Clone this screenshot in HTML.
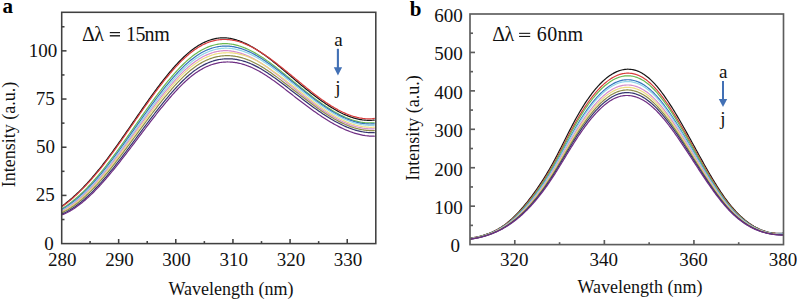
<!DOCTYPE html>
<html><head><meta charset="utf-8"><style>
html,body{margin:0;padding:0;background:#fff;}
body{width:797px;height:300px;overflow:hidden;}
svg{display:block;}
</style></head><body>
<svg width="797" height="300" viewBox="0 0 797 300">
<g fill="none" stroke-width="1.2" stroke-linejoin="round" stroke-linecap="round">
<polyline points="62.30,205.84 63.30,205.12 64.30,204.37 65.30,203.62 66.30,202.84 67.30,202.05 68.30,201.24 69.30,200.42 70.30,199.58 71.30,198.72 72.30,197.85 73.30,196.97 74.30,196.07 75.30,195.15 76.30,194.22 77.30,193.27 78.30,192.31 79.30,191.34 80.30,190.35 81.30,189.35 82.30,188.33 83.30,187.30 84.30,186.25 85.30,185.19 86.30,184.12 87.30,183.04 88.30,181.94 89.30,180.83 90.30,179.70 91.30,178.56 92.30,177.41 93.30,176.25 94.30,175.08 95.30,173.89 96.30,172.69 97.30,171.48 98.30,170.25 99.30,169.02 100.30,167.77 101.30,166.51 102.30,165.25 103.30,163.97 104.30,162.67 105.30,161.37 106.30,160.06 107.30,158.74 108.30,157.40 109.30,156.06 110.30,154.71 111.30,153.35 112.30,151.98 113.30,150.60 114.30,149.22 115.30,147.82 116.30,146.42 117.30,145.02 118.30,143.60 119.30,142.19 120.30,140.76 121.30,139.33 122.30,137.90 123.30,136.46 124.30,135.02 125.30,133.58 126.30,132.13 127.30,130.68 128.30,129.23 129.30,127.77 130.30,126.32 131.30,124.86 132.30,123.40 133.30,121.95 134.30,120.49 135.30,119.03 136.30,117.58 137.30,116.12 138.30,114.67 139.30,113.22 140.30,111.77 141.30,110.33 142.30,108.88 143.30,107.45 144.30,106.01 145.30,104.58 146.30,103.16 147.30,101.74 148.30,100.33 149.30,98.92 150.30,97.52 151.30,96.12 152.30,94.74 153.30,93.36 154.30,91.99 155.30,90.62 156.30,89.27 157.30,87.93 158.30,86.59 159.30,85.27 160.30,83.95 161.30,82.65 162.30,81.36 163.30,80.08 164.30,78.81 165.30,77.55 166.30,76.31 167.30,75.08 168.30,73.86 169.30,72.66 170.30,71.47 171.30,70.29 172.30,69.14 173.30,67.99 174.30,66.86 175.30,65.75 176.30,64.66 177.30,63.58 178.30,62.52 179.30,61.48 180.30,60.46 181.30,59.45 182.30,58.47 183.30,57.50 184.30,56.55 185.30,55.63 186.30,54.72 187.30,53.84 188.30,52.98 189.30,52.13 190.30,51.32 191.30,50.52 192.30,49.75 193.30,49.00 194.30,48.27 195.30,47.57 196.30,46.89 197.30,46.24 198.30,45.61 199.30,45.00 200.30,44.42 201.30,43.87 202.30,43.34 203.30,42.83 204.30,42.35 205.30,41.89 206.30,41.45 207.30,41.04 208.30,40.66 209.30,40.30 210.30,39.96 211.30,39.65 212.30,39.36 213.30,39.09 214.30,38.85 215.30,38.64 216.30,38.45 217.30,38.28 218.30,38.13 219.30,38.01 220.30,37.92 221.30,37.85 222.30,37.80 223.30,37.78 224.30,37.78 225.30,37.81 226.30,37.89 227.30,37.99 228.30,38.12 229.30,38.26 230.30,38.43 231.30,38.62 232.30,38.83 233.30,39.07 234.30,39.32 235.30,39.60 236.30,39.89 237.30,40.21 238.30,40.54 239.30,40.89 240.30,41.26 241.30,41.65 242.30,42.06 243.30,42.49 244.30,42.93 245.30,43.39 246.30,43.86 247.30,44.36 248.30,44.86 249.30,45.39 250.30,45.93 251.30,46.48 252.30,47.05 253.30,47.63 254.30,48.22 255.30,48.83 256.30,49.45 257.30,50.09 258.30,50.74 259.30,51.40 260.30,52.07 261.30,52.75 262.30,53.44 263.30,54.14 264.30,54.86 265.30,55.58 266.30,56.32 267.30,57.06 268.30,57.81 269.30,58.57 270.30,59.34 271.30,60.11 272.30,60.90 273.30,61.69 274.30,62.48 275.30,63.28 276.30,64.09 277.30,64.91 278.30,65.73 279.30,66.55 280.30,67.38 281.30,68.21 282.30,69.05 283.30,69.89 284.30,70.73 285.30,71.58 286.30,72.43 287.30,73.28 288.30,74.13 289.30,74.98 290.30,75.84 291.30,76.69 292.30,77.55 293.30,78.40 294.30,79.25 295.30,80.11 296.30,80.96 297.30,81.81 298.30,82.66 299.30,83.51 300.30,84.35 301.30,85.17 302.30,85.99 303.30,86.80 304.30,87.62 305.30,88.43 306.30,89.23 307.30,90.04 308.30,90.83 309.30,91.63 310.30,92.42 311.30,93.20 312.30,93.98 313.30,94.75 314.30,95.52 315.30,96.28 316.30,97.03 317.30,97.78 318.30,98.52 319.30,99.25 320.30,99.98 321.30,100.70 322.30,101.41 323.30,102.11 324.30,102.80 325.30,103.48 326.30,104.16 327.30,104.82 328.30,105.48 329.30,106.12 330.30,106.76 331.30,107.38 332.30,107.99 333.30,108.59 334.30,109.18 335.30,109.76 336.30,110.33 337.30,110.88 338.30,111.42 339.30,111.95 340.30,112.46 341.30,112.96 342.30,113.45 343.30,113.93 344.30,114.38 345.30,114.83 346.30,115.26 347.30,115.67 348.30,116.07 349.30,116.45 350.30,116.82 351.30,117.17 352.30,117.50 353.30,117.82 354.30,118.12 355.30,118.40 356.30,118.67 357.30,118.91 358.30,119.14 359.30,119.35 360.30,119.54 361.30,119.71 362.30,119.87 363.30,120.00 364.30,120.11 365.30,120.20 366.30,120.27 367.30,120.32 368.30,120.35 369.30,120.36 370.30,120.35 371.30,120.31 372.30,120.25 373.30,120.17 374.30,120.07" stroke="#151515"/>
<polyline points="62.30,206.38 63.30,205.67 64.30,204.95 65.30,204.21 66.30,203.45 67.30,202.67 68.30,201.88 69.30,201.08 70.30,200.26 71.30,199.42 72.30,198.56 73.30,197.69 74.30,196.81 75.30,195.91 76.30,194.99 77.30,194.06 78.30,193.11 79.30,192.15 80.30,191.17 81.30,190.18 82.30,189.18 83.30,188.16 84.30,187.13 85.30,186.08 86.30,185.02 87.30,183.94 88.30,182.86 89.30,181.76 90.30,180.64 91.30,179.52 92.30,178.38 93.30,177.22 94.30,176.06 95.30,174.88 96.30,173.69 97.30,172.49 98.30,171.28 99.30,170.05 100.30,168.82 101.30,167.57 102.30,166.31 103.30,165.04 104.30,163.76 105.30,162.47 106.30,161.17 107.30,159.86 108.30,158.53 109.30,157.20 110.30,155.86 111.30,154.51 112.30,153.15 113.30,151.79 114.30,150.41 115.30,149.03 116.30,147.64 117.30,146.25 118.30,144.85 119.30,143.44 120.30,142.03 121.30,140.61 122.30,139.19 123.30,137.76 124.30,136.33 125.30,134.90 126.30,133.46 127.30,132.02 128.30,130.58 129.30,129.13 130.30,127.69 131.30,126.24 132.30,124.80 133.30,123.35 134.30,121.90 135.30,120.46 136.30,119.01 137.30,117.57 138.30,116.12 139.30,114.68 140.30,113.24 141.30,111.81 142.30,110.38 143.30,108.95 144.30,107.52 145.30,106.10 146.30,104.69 147.30,103.28 148.30,101.87 149.30,100.47 150.30,99.08 151.30,97.70 152.30,96.32 153.30,94.95 154.30,93.58 155.30,92.23 156.30,90.88 157.30,89.54 158.30,88.22 159.30,86.90 160.30,85.59 161.30,84.29 162.30,83.01 163.30,81.73 164.30,80.47 165.30,79.22 166.30,77.98 167.30,76.75 168.30,75.54 169.30,74.34 170.30,73.16 171.30,71.99 172.30,70.83 173.30,69.69 174.30,68.57 175.30,67.46 176.30,66.37 177.30,65.30 178.30,64.24 179.30,63.20 180.30,62.18 181.30,61.18 182.30,60.19 183.30,59.23 184.30,58.28 185.30,57.36 186.30,56.45 187.30,55.57 188.30,54.71 189.30,53.87 190.30,53.05 191.30,52.25 192.30,51.48 193.30,50.73 194.30,50.01 195.30,49.31 196.30,48.63 197.30,47.98 198.30,47.35 199.30,46.74 200.30,46.16 201.30,45.61 202.30,45.08 203.30,44.57 204.30,44.08 205.30,43.63 206.30,43.19 207.30,42.78 208.30,42.39 209.30,42.03 210.30,41.69 211.30,41.38 212.30,41.09 213.30,40.82 214.30,40.58 215.30,40.36 216.30,40.17 217.30,40.00 218.30,39.85 219.30,39.73 220.30,39.63 221.30,39.56 222.30,39.51 223.30,39.48 224.30,39.48 225.30,39.49 226.30,39.51 227.30,39.56 228.30,39.62 229.30,39.71 230.30,39.83 231.30,39.96 232.30,40.12 233.30,40.29 234.30,40.49 235.30,40.71 236.30,40.95 237.30,41.21 238.30,41.49 239.30,41.79 240.30,42.11 241.30,42.45 242.30,42.80 243.30,43.18 244.30,43.57 245.30,43.98 246.30,44.40 247.30,44.85 248.30,45.31 249.30,45.78 250.30,46.27 251.30,46.78 252.30,47.30 253.30,47.83 254.30,48.38 255.30,48.95 256.30,49.52 257.30,50.11 258.30,50.71 259.30,51.33 260.30,51.96 261.30,52.59 262.30,53.24 263.30,53.90 264.30,54.58 265.30,55.26 266.30,55.95 267.30,56.65 268.30,57.36 269.30,58.08 270.30,58.80 271.30,59.54 272.30,60.28 273.30,61.03 274.30,61.79 275.30,62.55 276.30,63.32 277.30,64.09 278.30,64.87 279.30,65.66 280.30,66.45 281.30,67.24 282.30,68.04 283.30,68.84 284.30,69.65 285.30,70.45 286.30,71.27 287.30,72.08 288.30,72.89 289.30,73.71 290.30,74.53 291.30,75.34 292.30,76.16 293.30,76.98 294.30,77.80 295.30,78.62 296.30,79.44 297.30,80.25 298.30,81.07 299.30,81.88 300.30,82.70 301.30,83.53 302.30,84.35 303.30,85.17 304.30,85.99 305.30,86.81 306.30,87.62 307.30,88.43 308.30,89.23 309.30,90.03 310.30,90.82 311.30,91.61 312.30,92.40 313.30,93.18 314.30,93.95 315.30,94.71 316.30,95.47 317.30,96.23 318.30,96.97 319.30,97.71 320.30,98.44 321.30,99.16 322.30,99.88 323.30,100.58 324.30,101.28 325.30,101.97 326.30,102.64 327.30,103.31 328.30,103.97 329.30,104.62 330.30,105.26 331.30,105.89 332.30,106.50 333.30,107.11 334.30,107.70 335.30,108.28 336.30,108.85 337.30,109.40 338.30,109.95 339.30,110.47 340.30,110.99 341.30,111.49 342.30,111.98 343.30,112.46 344.30,112.92 345.30,113.36 346.30,113.79 347.30,114.20 348.30,114.60 349.30,114.98 350.30,115.35 351.30,115.70 352.30,116.03 353.30,116.35 354.30,116.64 355.30,116.92 356.30,117.18 357.30,117.43 358.30,117.65 359.30,117.86 360.30,118.04 361.30,118.21 362.30,118.36 363.30,118.49 364.30,118.59 365.30,118.68 366.30,118.74 367.30,118.79 368.30,118.81 369.30,118.81 370.30,118.79 371.30,118.74 372.30,118.68 373.30,118.59 374.30,118.47" stroke="#d83c3c"/>
<polyline points="62.30,208.51 63.30,207.88 64.30,207.23 65.30,206.57 66.30,205.88 67.30,205.18 68.30,204.46 69.30,203.72 70.30,202.97 71.30,202.19 72.30,201.40 73.30,200.59 74.30,199.77 75.30,198.92 76.30,198.06 77.30,197.19 78.30,196.30 79.30,195.39 80.30,194.47 81.30,193.53 82.30,192.57 83.30,191.60 84.30,190.62 85.30,189.62 86.30,188.61 87.30,187.58 88.30,186.53 89.30,185.48 90.30,184.41 91.30,183.32 92.30,182.22 93.30,181.11 94.30,179.99 95.30,178.85 96.30,177.70 97.30,176.54 98.30,175.37 99.30,174.18 100.30,172.98 101.30,171.76 102.30,170.53 103.30,169.29 104.30,168.04 105.30,166.77 106.30,165.50 107.30,164.21 108.30,162.92 109.30,161.61 110.30,160.30 111.30,158.98 112.30,157.64 113.30,156.30 114.30,154.95 115.30,153.60 116.30,152.23 117.30,150.86 118.30,149.49 119.30,148.10 120.30,146.71 121.30,145.32 122.30,143.92 123.30,142.52 124.30,141.11 125.30,139.70 126.30,138.28 127.30,136.86 128.30,135.44 129.30,134.02 130.30,132.59 131.30,131.17 132.30,129.74 133.30,128.31 134.30,126.88 135.30,125.45 136.30,124.02 137.30,122.59 138.30,121.17 139.30,119.74 140.30,118.32 141.30,116.89 142.30,115.47 143.30,114.06 144.30,112.65 145.30,111.24 146.30,109.83 147.30,108.43 148.30,107.03 149.30,105.64 150.30,104.26 151.30,102.88 152.30,101.51 153.30,100.14 154.30,98.78 155.30,97.43 156.30,96.09 157.30,94.75 158.30,93.43 159.30,92.11 160.30,90.80 161.30,89.51 162.30,88.22 163.30,86.94 164.30,85.68 165.30,84.42 166.30,83.18 167.30,81.95 168.30,80.73 169.30,79.52 170.30,78.33 171.30,77.15 172.30,75.99 173.30,74.84 174.30,73.70 175.30,72.58 176.30,71.48 177.30,70.39 178.30,69.32 179.30,68.27 180.30,67.23 181.30,66.21 182.30,65.21 183.30,64.23 184.30,63.27 185.30,62.33 186.30,61.41 187.30,60.51 188.30,59.63 189.30,58.77 190.30,57.94 191.30,57.13 192.30,56.34 193.30,55.57 194.30,54.83 195.30,54.11 196.30,53.41 197.30,52.74 198.30,52.09 199.30,51.47 200.30,50.87 201.30,50.29 202.30,49.74 203.30,49.21 204.30,48.71 205.30,48.23 206.30,47.77 207.30,47.34 208.30,46.93 209.30,46.54 210.30,46.18 211.30,45.85 212.30,45.53 213.30,45.24 214.30,44.98 215.30,44.74 216.30,44.52 217.30,44.32 218.30,44.15 219.30,44.01 220.30,43.88 221.30,43.78 222.30,43.70 223.30,43.65 224.30,43.62 225.30,43.62 226.30,43.65 227.30,43.70 228.30,43.77 229.30,43.87 230.30,43.98 231.30,44.12 232.30,44.28 233.30,44.46 234.30,44.67 235.30,44.89 236.30,45.13 237.30,45.39 238.30,45.67 239.30,45.97 240.30,46.29 241.30,46.63 242.30,46.99 243.30,47.36 244.30,47.75 245.30,48.16 246.30,48.59 247.30,49.03 248.30,49.49 249.30,49.96 250.30,50.46 251.30,50.96 252.30,51.48 253.30,52.02 254.30,52.57 255.30,53.13 256.30,53.71 257.30,54.30 258.30,54.91 259.30,55.53 260.30,56.16 261.30,56.80 262.30,57.45 263.30,58.12 264.30,58.79 265.30,59.48 266.30,60.18 267.30,60.88 268.30,61.60 269.30,62.32 270.30,63.05 271.30,63.79 272.30,64.54 273.30,65.30 274.30,66.06 275.30,66.83 276.30,67.60 277.30,68.39 278.30,69.17 279.30,69.96 280.30,70.76 281.30,71.56 282.30,72.37 283.30,73.17 284.30,73.98 285.30,74.80 286.30,75.61 287.30,76.43 288.30,77.25 289.30,78.07 290.30,78.90 291.30,79.72 292.30,80.54 293.30,81.36 294.30,82.18 295.30,83.01 296.30,83.83 297.30,84.65 298.30,85.46 299.30,86.28 300.30,87.09 301.30,87.91 302.30,88.72 303.30,89.52 304.30,90.33 305.30,91.13 306.30,91.92 307.30,92.72 308.30,93.50 309.30,94.29 310.30,95.07 311.30,95.84 312.30,96.61 313.30,97.38 314.30,98.13 315.30,98.89 316.30,99.63 317.30,100.37 318.30,101.10 319.30,101.83 320.30,102.54 321.30,103.25 322.30,103.96 323.30,104.65 324.30,105.34 325.30,106.01 326.30,106.68 327.30,107.34 328.30,107.99 329.30,108.62 330.30,109.25 331.30,109.87 332.30,110.48 333.30,111.07 334.30,111.66 335.30,112.23 336.30,112.79 337.30,113.34 338.30,113.88 339.30,114.41 340.30,114.92 341.30,115.42 342.30,115.90 343.30,116.37 344.30,116.83 345.30,117.28 346.30,117.70 347.30,118.12 348.30,118.52 349.30,118.90 350.30,119.27 351.30,119.62 352.30,119.96 353.30,120.28 354.30,120.58 355.30,120.87 356.30,121.14 357.30,121.39 358.30,121.62 359.30,121.84 360.30,122.04 361.30,122.22 362.30,122.38 363.30,122.52 364.30,122.64 365.30,122.74 366.30,122.82 367.30,122.88 368.30,122.93 369.30,122.95 370.30,122.95 371.30,122.92 372.30,122.88 373.30,122.82 374.30,122.73" stroke="#6ab850"/>
<polyline points="62.30,209.39 63.30,208.80 64.30,208.18 65.30,207.55 66.30,206.90 67.30,206.22 68.30,205.53 69.30,204.82 70.30,204.09 71.30,203.35 72.30,202.58 73.30,201.80 74.30,201.00 75.30,200.18 76.30,199.35 77.30,198.49 78.30,197.63 79.30,196.74 80.30,195.84 81.30,194.92 82.30,193.99 83.30,193.04 84.30,192.07 85.30,191.09 86.30,190.10 87.30,189.09 88.30,188.07 89.30,187.03 90.30,185.98 91.30,184.91 92.30,183.83 93.30,182.73 94.30,181.63 95.30,180.51 96.30,179.37 97.30,178.23 98.30,177.07 99.30,175.90 100.30,174.72 101.30,173.51 102.30,172.30 103.30,171.07 104.30,169.84 105.30,168.59 106.30,167.33 107.30,166.06 108.30,164.78 109.30,163.49 110.30,162.19 111.30,160.89 112.30,159.57 113.30,158.24 114.30,156.91 115.30,155.57 116.30,154.22 117.30,152.87 118.30,151.51 119.30,150.14 120.30,148.76 121.30,147.39 122.30,146.00 123.30,144.61 124.30,143.22 125.30,141.82 126.30,140.42 127.30,139.02 128.30,137.61 129.30,136.20 130.30,134.79 131.30,133.38 132.30,131.97 133.30,130.55 134.30,129.13 135.30,127.72 136.30,126.30 137.30,124.89 138.30,123.47 139.30,122.06 140.30,120.65 141.30,119.24 142.30,117.83 143.30,116.43 144.30,115.02 145.30,113.63 146.30,112.23 147.30,110.84 148.30,109.46 149.30,108.08 150.30,106.70 151.30,105.33 152.30,103.97 153.30,102.61 154.30,101.27 155.30,99.92 156.30,98.59 157.30,97.26 158.30,95.94 159.30,94.63 160.30,93.33 161.30,92.04 162.30,90.76 163.30,89.49 164.30,88.23 165.30,86.98 166.30,85.74 167.30,84.51 168.30,83.30 169.30,82.10 170.30,80.91 171.30,79.73 172.30,78.57 173.30,77.42 174.30,76.29 175.30,75.17 176.30,74.07 177.30,72.98 178.30,71.91 179.30,70.86 180.30,69.82 181.30,68.80 182.30,67.80 183.30,66.82 184.30,65.86 185.30,64.92 186.30,64.00 187.30,63.10 188.30,62.22 189.30,61.36 190.30,60.52 191.30,59.71 192.30,58.91 193.30,58.15 194.30,57.40 195.30,56.68 196.30,55.98 197.30,55.31 198.30,54.65 199.30,54.03 200.30,53.43 201.30,52.85 202.30,52.29 203.30,51.76 204.30,51.25 205.30,50.77 206.30,50.31 207.30,49.87 208.30,49.46 209.30,49.07 210.30,48.70 211.30,48.36 212.30,48.04 213.30,47.75 214.30,47.48 215.30,47.23 216.30,47.01 217.30,46.80 218.30,46.63 219.30,46.47 220.30,46.34 221.30,46.24 222.30,46.15 223.30,46.09 224.30,46.05 225.30,46.04 226.30,46.04 227.30,46.07 228.30,46.12 229.30,46.20 230.30,46.29 231.30,46.41 232.30,46.55 233.30,46.71 234.30,46.88 235.30,47.08 236.30,47.30 237.30,47.54 238.30,47.80 239.30,48.08 240.30,48.38 241.30,48.69 242.30,49.03 243.30,49.38 244.30,49.75 245.30,50.14 246.30,50.54 247.30,50.96 248.30,51.40 249.30,51.85 250.30,52.32 251.30,52.81 252.30,53.31 253.30,53.83 254.30,54.36 255.30,54.90 256.30,55.46 257.30,56.04 258.30,56.63 259.30,57.23 260.30,57.84 261.30,58.46 262.30,59.10 263.30,59.75 264.30,60.41 265.30,61.08 266.30,61.76 267.30,62.45 268.30,63.15 269.30,63.85 270.30,64.57 271.30,65.30 272.30,66.03 273.30,66.77 274.30,67.52 275.30,68.27 276.30,69.03 277.30,69.80 278.30,70.57 279.30,71.35 280.30,72.13 281.30,72.92 282.30,73.71 283.30,74.50 284.30,75.30 285.30,76.10 286.30,76.90 287.30,77.71 288.30,78.51 289.30,79.32 290.30,80.13 291.30,80.94 292.30,81.75 293.30,82.55 294.30,83.36 295.30,84.17 296.30,84.98 297.30,85.78 298.30,86.59 299.30,87.39 300.30,88.19 301.30,89.00 302.30,89.81 303.30,90.61 304.30,91.41 305.30,92.21 306.30,93.00 307.30,93.79 308.30,94.57 309.30,95.35 310.30,96.13 311.30,96.90 312.30,97.67 313.30,98.43 314.30,99.18 315.30,99.93 316.30,100.67 317.30,101.41 318.30,102.14 319.30,102.86 320.30,103.57 321.30,104.28 322.30,104.98 323.30,105.67 324.30,106.35 325.30,107.02 326.30,107.69 327.30,108.34 328.30,108.99 329.30,109.62 330.30,110.25 331.30,110.87 332.30,111.47 333.30,112.07 334.30,112.65 335.30,113.22 336.30,113.78 337.30,114.33 338.30,114.87 339.30,115.39 340.30,115.90 341.30,116.40 342.30,116.88 343.30,117.35 344.30,117.81 345.30,118.25 346.30,118.68 347.30,119.10 348.30,119.50 349.30,119.88 350.30,120.25 351.30,120.60 352.30,120.94 353.30,121.26 354.30,121.57 355.30,121.86 356.30,122.13 357.30,122.38 358.30,122.62 359.30,122.84 360.30,123.04 361.30,123.22 362.30,123.38 363.30,123.53 364.30,123.65 365.30,123.76 366.30,123.84 367.30,123.91 368.30,123.95 369.30,123.98 370.30,123.99 371.30,123.97 372.30,123.93 373.30,123.87 374.30,123.79" stroke="#3574bd"/>
<polyline points="62.30,210.28 63.30,209.72 64.30,209.14 65.30,208.53 66.30,207.91 67.30,207.27 68.30,206.61 69.30,205.92 70.30,205.22 71.30,204.50 72.30,203.76 73.30,203.01 74.30,202.23 75.30,201.44 76.30,200.63 77.30,199.80 78.30,198.95 79.30,198.09 80.30,197.21 81.30,196.32 82.30,195.40 83.30,194.47 84.30,193.53 85.30,192.57 86.30,191.59 87.30,190.60 88.30,189.60 89.30,188.58 90.30,187.54 91.30,186.49 92.30,185.43 93.30,184.36 94.30,183.27 95.30,182.16 96.30,181.05 97.30,179.92 98.30,178.78 99.30,177.62 100.30,176.45 101.30,175.26 102.30,174.07 103.30,172.85 104.30,171.63 105.30,170.40 106.30,169.15 107.30,167.90 108.30,166.63 109.30,165.36 110.30,164.07 111.30,162.78 112.30,161.48 113.30,160.17 114.30,158.85 115.30,157.52 116.30,156.19 117.30,154.84 118.30,153.50 119.30,152.14 120.30,150.78 121.30,149.42 122.30,148.05 123.30,146.67 124.30,145.29 125.30,143.91 126.30,142.52 127.30,141.13 128.30,139.73 129.30,138.34 130.30,136.94 131.30,135.54 132.30,134.13 133.30,132.73 134.30,131.33 135.30,129.92 136.30,128.52 137.30,127.11 138.30,125.71 139.30,124.31 140.30,122.90 141.30,121.50 142.30,120.11 143.30,118.71 144.30,117.32 145.30,115.93 146.30,114.55 147.30,113.16 148.30,111.79 149.30,110.42 150.30,109.05 151.30,107.69 152.30,106.33 153.30,104.98 154.30,103.64 155.30,102.30 156.30,100.97 157.30,99.65 158.30,98.34 159.30,97.03 160.30,95.74 161.30,94.45 162.30,93.17 163.30,91.91 164.30,90.65 165.30,89.40 166.30,88.17 167.30,86.94 168.30,85.73 169.30,84.53 170.30,83.34 171.30,82.17 172.30,81.00 173.30,79.86 174.30,78.72 175.30,77.60 176.30,76.50 177.30,75.41 178.30,74.34 179.30,73.28 180.30,72.25 181.30,71.23 182.30,70.22 183.30,69.24 184.30,68.28 185.30,67.33 186.30,66.41 187.30,65.50 188.30,64.62 189.30,63.76 190.30,62.92 191.30,62.10 192.30,61.30 193.30,60.53 194.30,59.78 195.30,59.05 196.30,58.35 197.30,57.67 198.30,57.02 199.30,56.39 200.30,55.78 201.30,55.19 202.30,54.63 203.30,54.10 204.30,53.58 205.30,53.10 206.30,52.63 207.30,52.19 208.30,51.77 209.30,51.37 210.30,51.00 211.30,50.65 212.30,50.33 213.30,50.03 214.30,49.75 215.30,49.49 216.30,49.26 217.30,49.05 218.30,48.87 219.30,48.71 220.30,48.57 221.30,48.45 222.30,48.36 223.30,48.29 224.30,48.24 225.30,48.22 226.30,48.21 227.30,48.23 228.30,48.27 229.30,48.33 230.30,48.41 231.30,48.52 232.30,48.64 233.30,48.79 234.30,48.96 235.30,49.14 236.30,49.35 237.30,49.58 238.30,49.82 239.30,50.09 240.30,50.37 241.30,50.68 242.30,51.00 243.30,51.34 244.30,51.69 245.30,52.07 246.30,52.46 247.30,52.87 248.30,53.30 249.30,53.74 250.30,54.20 251.30,54.67 252.30,55.16 253.30,55.67 254.30,56.19 255.30,56.72 256.30,57.27 257.30,57.83 258.30,58.41 259.30,59.00 260.30,59.60 261.30,60.22 262.30,60.85 263.30,61.49 264.30,62.14 265.30,62.80 266.30,63.47 267.30,64.15 268.30,64.84 269.30,65.54 270.30,66.25 271.30,66.97 272.30,67.70 273.30,68.43 274.30,69.17 275.30,69.92 276.30,70.67 277.30,71.43 278.30,72.20 279.30,72.97 280.30,73.74 281.30,74.52 282.30,75.30 283.30,76.09 284.30,76.88 285.30,77.67 286.30,78.47 287.30,79.27 288.30,80.07 289.30,80.87 290.30,81.67 291.30,82.47 292.30,83.27 293.30,84.07 294.30,84.87 295.30,85.67 296.30,86.47 297.30,87.27 298.30,88.07 299.30,88.86 300.30,89.66 301.30,90.46 302.30,91.26 303.30,92.06 304.30,92.85 305.30,93.65 306.30,94.43 307.30,95.22 308.30,96.00 309.30,96.77 310.30,97.54 311.30,98.31 312.30,99.07 313.30,99.83 314.30,100.58 315.30,101.32 316.30,102.06 317.30,102.79 318.30,103.51 319.30,104.23 320.30,104.94 321.30,105.64 322.30,106.34 323.30,107.02 324.30,107.70 325.30,108.37 326.30,109.03 327.30,109.68 328.30,110.33 329.30,110.96 330.30,111.58 331.30,112.20 332.30,112.80 333.30,113.39 334.30,113.97 335.30,114.54 336.30,115.10 337.30,115.64 338.30,116.18 339.30,116.70 340.30,117.21 341.30,117.71 342.30,118.19 343.30,118.66 344.30,119.12 345.30,119.56 346.30,119.99 347.30,120.40 348.30,120.80 349.30,121.19 350.30,121.56 351.30,121.91 352.30,122.25 353.30,122.57 354.30,122.88 355.30,123.17 356.30,123.45 357.30,123.70 358.30,123.94 359.30,124.16 360.30,124.37 361.30,124.55 362.30,124.72 363.30,124.87 364.30,125.00 365.30,125.11 366.30,125.20 367.30,125.27 368.30,125.33 369.30,125.36 370.30,125.37 371.30,125.36 372.30,125.33 373.30,125.28 374.30,125.21" stroke="#92d6ea"/>
<polyline points="62.30,210.99 63.30,210.46 64.30,209.90 65.30,209.32 66.30,208.72 67.30,208.10 68.30,207.46 69.30,206.80 70.30,206.13 71.30,205.43 72.30,204.71 73.30,203.97 74.30,203.22 75.30,202.44 76.30,201.65 77.30,200.84 78.30,200.02 79.30,199.17 80.30,198.31 81.30,197.43 82.30,196.53 83.30,195.62 84.30,194.69 85.30,193.75 86.30,192.79 87.30,191.81 88.30,190.82 89.30,189.82 90.30,188.80 91.30,187.76 92.30,186.72 93.30,185.65 94.30,184.58 95.30,183.49 96.30,182.38 97.30,181.27 98.30,180.14 99.30,179.00 100.30,177.84 101.30,176.67 102.30,175.49 103.30,174.29 104.30,173.08 105.30,171.87 106.30,170.64 107.30,169.40 108.30,168.15 109.30,166.89 110.30,165.62 111.30,164.34 112.30,163.06 113.30,161.76 114.30,160.46 115.30,159.15 116.30,157.83 117.30,156.50 118.30,155.17 119.30,153.83 120.30,152.49 121.30,151.14 122.30,149.79 123.30,148.43 124.30,147.06 125.30,145.69 126.30,144.32 127.30,142.95 128.30,141.57 129.30,140.19 130.30,138.80 131.30,137.42 132.30,136.03 133.30,134.64 134.30,133.25 135.30,131.86 136.30,130.47 137.30,129.08 138.30,127.70 139.30,126.31 140.30,124.92 141.30,123.54 142.30,122.15 143.30,120.77 144.30,119.39 145.30,118.02 146.30,116.65 147.30,115.28 148.30,113.91 149.30,112.56 150.30,111.20 151.30,109.85 152.30,108.51 153.30,107.17 154.30,105.84 155.30,104.51 156.30,103.20 157.30,101.89 158.30,100.58 159.30,99.29 160.30,98.00 161.30,96.73 162.30,95.46 163.30,94.20 164.30,92.95 165.30,91.72 166.30,90.49 167.30,89.27 168.30,88.07 169.30,86.87 170.30,85.69 171.30,84.52 172.30,83.37 173.30,82.23 174.30,81.10 175.30,79.98 176.30,78.89 177.30,77.80 178.30,76.74 179.30,75.68 180.30,74.65 181.30,73.63 182.30,72.64 183.30,71.66 184.30,70.69 185.30,69.75 186.30,68.83 187.30,67.93 188.30,67.05 189.30,66.19 190.30,65.35 191.30,64.54 192.30,63.74 193.30,62.97 194.30,62.23 195.30,61.50 196.30,60.80 197.30,60.13 198.30,59.47 199.30,58.84 200.30,58.24 201.30,57.65 202.30,57.09 203.30,56.56 204.30,56.05 205.30,55.56 206.30,55.09 207.30,54.65 208.30,54.23 209.30,53.83 210.30,53.46 211.30,53.11 212.30,52.79 213.30,52.48 214.30,52.20 215.30,51.95 216.30,51.71 217.30,51.50 218.30,51.32 219.30,51.15 220.30,51.01 221.30,50.89 222.30,50.79 223.30,50.72 224.30,50.67 225.30,50.65 226.30,50.67 227.30,50.71 228.30,50.77 229.30,50.85 230.30,50.96 231.30,51.08 232.30,51.23 233.30,51.40 234.30,51.58 235.30,51.79 236.30,52.01 237.30,52.26 238.30,52.52 239.30,52.80 240.30,53.11 241.30,53.43 242.30,53.76 243.30,54.12 244.30,54.49 245.30,54.88 246.30,55.29 247.30,55.71 248.30,56.15 249.30,56.61 250.30,57.09 251.30,57.57 252.30,58.08 253.30,58.60 254.30,59.14 255.30,59.69 256.30,60.25 257.30,60.83 258.30,61.42 259.30,62.03 260.30,62.65 261.30,63.28 262.30,63.92 263.30,64.58 264.30,65.25 265.30,65.93 266.30,66.61 267.30,67.31 268.30,68.02 269.30,68.74 270.30,69.46 271.30,70.20 272.30,70.94 273.30,71.69 274.30,72.45 275.30,73.21 276.30,73.98 277.30,74.76 278.30,75.54 279.30,76.33 280.30,77.12 281.30,77.92 282.30,78.72 283.30,79.52 284.30,80.33 285.30,81.14 286.30,81.95 287.30,82.76 288.30,83.57 289.30,84.39 290.30,85.20 291.30,86.02 292.30,86.84 293.30,87.65 294.30,88.47 295.30,89.28 296.30,90.09 297.30,90.90 298.30,91.71 299.30,92.52 300.30,93.32 301.30,94.11 302.30,94.90 303.30,95.68 304.30,96.47 305.30,97.24 306.30,98.02 307.30,98.79 308.30,99.56 309.30,100.32 310.30,101.08 311.30,101.83 312.30,102.58 313.30,103.33 314.30,104.06 315.30,104.80 316.30,105.52 317.30,106.24 318.30,106.95 319.30,107.66 320.30,108.36 321.30,109.05 322.30,109.74 323.30,110.41 324.30,111.08 325.30,111.74 326.30,112.39 327.30,113.04 328.30,113.67 329.30,114.30 330.30,114.91 331.30,115.52 332.30,116.11 333.30,116.70 334.30,117.27 335.30,117.83 336.30,118.39 337.30,118.93 338.30,119.46 339.30,119.98 340.30,120.48 341.30,120.98 342.30,121.46 343.30,121.93 344.30,122.38 345.30,122.82 346.30,123.25 347.30,123.67 348.30,124.07 349.30,124.45 350.30,124.83 351.30,125.18 352.30,125.53 353.30,125.85 354.30,126.16 355.30,126.46 356.30,126.74 357.30,127.00 358.30,127.25 359.30,127.48 360.30,127.69 361.30,127.89 362.30,128.07 363.30,128.23 364.30,128.37 365.30,128.50 366.30,128.60 367.30,128.69 368.30,128.76 369.30,128.81 370.30,128.84 371.30,128.85 372.30,128.84 373.30,128.81 374.30,128.75" stroke="#d48ccc"/>
<polyline points="62.30,211.70 63.30,211.19 64.30,210.66 65.30,210.11 66.30,209.53 67.30,208.94 68.30,208.32 69.30,207.69 70.30,207.03 71.30,206.35 72.30,205.66 73.30,204.94 74.30,204.20 75.30,203.45 76.30,202.68 77.30,201.89 78.30,201.08 79.30,200.25 80.30,199.41 81.30,198.54 82.30,197.67 83.30,196.77 84.30,195.86 85.30,194.93 86.30,193.99 87.30,193.03 88.30,192.05 89.30,191.06 90.30,190.05 91.30,189.03 92.30,188.00 93.30,186.95 94.30,185.89 95.30,184.81 96.30,183.72 97.30,182.62 98.30,181.50 99.30,180.37 100.30,179.23 101.30,178.07 102.30,176.90 103.30,175.72 104.30,174.53 105.30,173.33 106.30,172.11 107.30,170.89 108.30,169.65 109.30,168.41 110.30,167.15 111.30,165.89 112.30,164.62 113.30,163.33 114.30,162.05 115.30,160.75 116.30,159.45 117.30,158.13 118.30,156.82 119.30,155.49 120.30,154.16 121.30,152.83 122.30,151.49 123.30,150.14 124.30,148.79 125.30,147.44 126.30,146.08 127.30,144.72 128.30,143.35 129.30,141.99 130.30,140.62 131.30,139.24 132.30,137.87 133.30,136.49 134.30,135.12 135.30,133.74 136.30,132.37 137.30,130.99 138.30,129.61 139.30,128.24 140.30,126.86 141.30,125.49 142.30,124.12 143.30,122.75 144.30,121.38 145.30,120.02 146.30,118.66 147.30,117.30 148.30,115.95 149.30,114.60 150.30,113.25 151.30,111.92 152.30,110.58 153.30,109.25 154.30,107.93 155.30,106.62 156.30,105.31 157.30,104.01 158.30,102.71 159.30,101.43 160.30,100.15 161.30,98.88 162.30,97.62 163.30,96.37 164.30,95.13 165.30,93.90 166.30,92.67 167.30,91.46 168.30,90.26 169.30,89.08 170.30,87.90 171.30,86.74 172.30,85.58 173.30,84.45 174.30,83.32 175.30,82.21 176.30,81.12 177.30,80.03 178.30,78.97 179.30,77.92 180.30,76.89 181.30,75.88 182.30,74.88 183.30,73.90 184.30,72.94 185.30,72.00 186.30,71.08 187.30,70.18 188.30,69.30 189.30,68.44 190.30,67.60 191.30,66.79 192.30,66.00 193.30,65.23 194.30,64.48 195.30,63.76 196.30,63.06 197.30,62.38 198.30,61.73 199.30,61.10 200.30,60.49 201.30,59.91 202.30,59.35 203.30,58.81 204.30,58.29 205.30,57.80 206.30,57.34 207.30,56.89 208.30,56.47 209.30,56.07 210.30,55.70 211.30,55.35 212.30,55.02 213.30,54.71 214.30,54.43 215.30,54.17 216.30,53.93 217.30,53.72 218.30,53.53 219.30,53.36 220.30,53.22 221.30,53.09 222.30,52.99 223.30,52.91 224.30,52.86 225.30,52.81 226.30,52.76 227.30,52.74 228.30,52.74 229.30,52.75 230.30,52.79 231.30,52.86 232.30,52.94 233.30,53.04 234.30,53.16 235.30,53.31 236.30,53.47 237.30,53.65 238.30,53.85 239.30,54.07 240.30,54.32 241.30,54.57 242.30,54.85 243.30,55.15 244.30,55.46 245.30,55.80 246.30,56.15 247.30,56.51 248.30,56.90 249.30,57.30 250.30,57.72 251.30,58.15 252.30,58.60 253.30,59.07 254.30,59.55 255.30,60.05 256.30,60.56 257.30,61.09 258.30,61.63 259.30,62.19 260.30,62.76 261.30,63.34 262.30,63.93 263.30,64.54 264.30,65.16 265.30,65.79 266.30,66.43 267.30,67.08 268.30,67.74 269.30,68.41 270.30,69.09 271.30,69.78 272.30,70.47 273.30,71.18 274.30,71.89 275.30,72.61 276.30,73.33 277.30,74.06 278.30,74.80 279.30,75.54 280.30,76.29 281.30,77.04 282.30,77.80 283.30,78.56 284.30,79.32 285.30,80.09 286.30,80.85 287.30,81.62 288.30,82.40 289.30,83.17 290.30,83.94 291.30,84.72 292.30,85.49 293.30,86.27 294.30,87.04 295.30,87.81 296.30,88.59 297.30,89.36 298.30,90.13 299.30,90.90 300.30,91.67 301.30,92.47 302.30,93.26 303.30,94.05 304.30,94.84 305.30,95.63 306.30,96.41 307.30,97.18 308.30,97.96 309.30,98.72 310.30,99.49 311.30,100.25 312.30,101.00 313.30,101.75 314.30,102.49 315.30,103.23 316.30,103.96 317.30,104.69 318.30,105.41 319.30,106.12 320.30,106.82 321.30,107.52 322.30,108.21 323.30,108.89 324.30,109.56 325.30,110.23 326.30,110.88 327.30,111.53 328.30,112.17 329.30,112.79 330.30,113.41 331.30,114.02 332.30,114.62 333.30,115.21 334.30,115.79 335.30,116.35 336.30,116.91 337.30,117.45 338.30,117.98 339.30,118.50 340.30,119.01 341.30,119.50 342.30,119.99 343.30,120.46 344.30,120.91 345.30,121.35 346.30,121.78 347.30,122.20 348.30,122.60 349.30,122.98 350.30,123.36 351.30,123.71 352.30,124.05 353.30,124.38 354.30,124.69 355.30,124.98 356.30,125.26 357.30,125.52 358.30,125.76 359.30,125.99 360.30,126.20 361.30,126.39 362.30,126.56 363.30,126.72 364.30,126.85 365.30,126.97 366.30,127.07 367.30,127.15 368.30,127.21 369.30,127.26 370.30,127.28 371.30,127.28 372.30,127.26 373.30,127.22 374.30,127.16" stroke="#eedc80"/>
<polyline points="62.30,212.59 63.30,212.11 64.30,211.61 65.30,211.09 66.30,210.55 67.30,209.98 68.30,209.40 69.30,208.79 70.30,208.16 71.30,207.51 72.30,206.84 73.30,206.15 74.30,205.44 75.30,204.71 76.30,203.96 77.30,203.19 78.30,202.41 79.30,201.60 80.30,200.78 81.30,199.94 82.30,199.08 83.30,198.21 84.30,197.31 85.30,196.40 86.30,195.48 87.30,194.54 88.30,193.58 89.30,192.61 90.30,191.62 91.30,190.62 92.30,189.60 93.30,188.57 94.30,187.52 95.30,186.47 96.30,185.39 97.30,184.31 98.30,183.21 99.30,182.09 100.30,180.97 101.30,179.83 102.30,178.68 103.30,177.52 104.30,176.34 105.30,175.16 106.30,173.96 107.30,172.76 108.30,171.54 109.30,170.31 110.30,169.08 111.30,167.83 112.30,166.58 113.30,165.32 114.30,164.05 115.30,162.77 116.30,161.49 117.30,160.19 118.30,158.90 119.30,157.59 120.30,156.28 121.30,154.96 122.30,153.64 123.30,152.32 124.30,150.98 125.30,149.65 126.30,148.31 127.30,146.97 128.30,145.62 129.30,144.27 130.30,142.92 131.30,141.57 132.30,140.21 133.30,138.85 134.30,137.50 135.30,136.14 136.30,134.78 137.30,133.42 138.30,132.06 139.30,130.70 140.30,129.34 141.30,127.99 142.30,126.63 143.30,125.28 144.30,123.93 145.30,122.58 146.30,121.24 147.30,119.90 148.30,118.56 149.30,117.22 150.30,115.90 151.30,114.57 152.30,113.25 153.30,111.94 154.30,110.63 155.30,109.33 156.30,108.03 157.30,106.74 158.30,105.46 159.30,104.19 160.30,102.92 161.30,101.66 162.30,100.41 163.30,99.17 164.30,97.94 165.30,96.72 166.30,95.51 167.30,94.31 168.30,93.12 169.30,91.94 170.30,90.77 171.30,89.61 172.30,88.47 173.30,87.33 174.30,86.22 175.30,85.11 176.30,84.02 177.30,82.94 178.30,81.88 179.30,80.84 180.30,79.81 181.30,78.80 182.30,77.81 183.30,76.83 184.30,75.88 185.30,74.94 186.30,74.02 187.30,73.13 188.30,72.25 189.30,71.39 190.30,70.56 191.30,69.75 192.30,68.96 193.30,68.19 194.30,67.44 195.30,66.72 196.30,66.02 197.30,65.35 198.30,64.69 199.30,64.06 200.30,63.46 201.30,62.88 202.30,62.32 203.30,61.78 204.30,61.26 205.30,60.77 206.30,60.31 207.30,59.86 208.30,59.44 209.30,59.04 210.30,58.66 211.30,58.31 212.30,57.98 213.30,57.67 214.30,57.39 215.30,57.12 216.30,56.88 217.30,56.67 218.30,56.47 219.30,56.30 220.30,56.15 221.30,56.02 222.30,55.92 223.30,55.83 224.30,55.77 225.30,55.72 226.30,55.69 227.30,55.68 228.30,55.68 229.30,55.71 230.30,55.76 231.30,55.83 232.30,55.92 233.30,56.04 234.30,56.17 235.30,56.32 236.30,56.49 237.30,56.68 238.30,56.89 239.30,57.12 240.30,57.36 241.30,57.63 242.30,57.91 243.30,58.21 244.30,58.53 245.30,58.87 246.30,59.23 247.30,59.60 248.30,59.99 249.30,60.40 250.30,60.82 251.30,61.26 252.30,61.72 253.30,62.19 254.30,62.68 255.30,63.18 256.30,63.70 257.30,64.24 258.30,64.78 259.30,65.35 260.30,65.92 261.30,66.51 262.30,67.12 263.30,67.73 264.30,68.36 265.30,68.99 266.30,69.64 267.30,70.30 268.30,70.97 269.30,71.65 270.30,72.34 271.30,73.04 272.30,73.74 273.30,74.45 274.30,75.17 275.30,75.90 276.30,76.64 277.30,77.38 278.30,78.12 279.30,78.87 280.30,79.63 281.30,80.39 282.30,81.16 283.30,81.92 284.30,82.70 285.30,83.47 286.30,84.25 287.30,85.02 288.30,85.80 289.30,86.58 290.30,87.37 291.30,88.15 292.30,88.93 293.30,89.71 294.30,90.49 295.30,91.27 296.30,92.05 297.30,92.82 298.30,93.60 299.30,94.37 300.30,95.15 301.30,95.94 302.30,96.72 303.30,97.50 304.30,98.27 305.30,99.04 306.30,99.81 307.30,100.58 308.30,101.34 309.30,102.10 310.30,102.85 311.30,103.60 312.30,104.34 313.30,105.08 314.30,105.81 315.30,106.53 316.30,107.25 317.30,107.97 318.30,108.68 319.30,109.38 320.30,110.07 321.30,110.76 322.30,111.44 323.30,112.11 324.30,112.77 325.30,113.43 326.30,114.08 327.30,114.71 328.30,115.34 329.30,115.96 330.30,116.57 331.30,117.18 332.30,117.77 333.30,118.35 334.30,118.92 335.30,119.48 336.30,120.03 337.30,120.57 338.30,121.10 339.30,121.61 340.30,122.12 341.30,122.61 342.30,123.09 343.30,123.56 344.30,124.01 345.30,124.46 346.30,124.88 347.30,125.30 348.30,125.70 349.30,126.09 350.30,126.46 351.30,126.82 352.30,127.16 353.30,127.49 354.30,127.81 355.30,128.10 356.30,128.39 357.30,128.65 358.30,128.91 359.30,129.14 360.30,129.36 361.30,129.56 362.30,129.74 363.30,129.91 364.30,130.06 365.30,130.19 366.30,130.30 367.30,130.40 368.30,130.47 369.30,130.53 370.30,130.57 371.30,130.59 372.30,130.59 373.30,130.57 374.30,130.53" stroke="#8c8c48"/>
<polyline points="62.30,213.83 63.30,213.40 64.30,212.95 65.30,212.47 66.30,211.97 67.30,211.44 68.30,210.90 69.30,210.33 70.30,209.74 71.30,209.13 72.30,208.49 73.30,207.84 74.30,207.16 75.30,206.47 76.30,205.75 77.30,205.02 78.30,204.27 79.30,203.49 80.30,202.70 81.30,201.89 82.30,201.06 83.30,200.21 84.30,199.35 85.30,198.47 86.30,197.57 87.30,196.66 88.30,195.73 89.30,194.78 90.30,193.82 91.30,192.84 92.30,191.85 93.30,190.84 94.30,189.82 95.30,188.78 96.30,187.73 97.30,186.67 98.30,185.59 99.30,184.50 100.30,183.40 101.30,182.28 102.30,181.15 103.30,180.01 104.30,178.86 105.30,177.69 106.30,176.52 107.30,175.33 108.30,174.14 109.30,172.93 110.30,171.71 111.30,170.49 112.30,169.26 113.30,168.02 114.30,166.77 115.30,165.51 116.30,164.24 117.30,162.97 118.30,161.69 119.30,160.41 120.30,159.12 121.30,157.82 122.30,156.52 123.30,155.21 124.30,153.90 125.30,152.58 126.30,151.26 127.30,149.94 128.30,148.61 129.30,147.28 130.30,145.95 131.30,144.61 132.30,143.27 133.30,141.93 134.30,140.59 135.30,139.25 136.30,137.91 137.30,136.56 138.30,135.22 139.30,133.88 140.30,132.53 141.30,131.19 142.30,129.85 143.30,128.51 144.30,127.18 145.30,125.84 146.30,124.51 147.30,123.18 148.30,121.86 149.30,120.54 150.30,119.22 151.30,117.91 152.30,116.60 153.30,115.29 154.30,114.00 155.30,112.70 156.30,111.42 157.30,110.14 158.30,108.86 159.30,107.60 160.30,106.34 161.30,105.09 162.30,103.84 163.30,102.61 164.30,101.38 165.30,100.17 166.30,98.96 167.30,97.76 168.30,96.57 169.30,95.40 170.30,94.23 171.30,93.08 172.30,91.93 173.30,90.80 174.30,89.68 175.30,88.58 176.30,87.49 177.30,86.41 178.30,85.35 179.30,84.30 180.30,83.27 181.30,82.26 182.30,81.26 183.30,80.29 184.30,79.33 185.30,78.39 186.30,77.47 187.30,76.56 188.30,75.68 189.30,74.82 190.30,73.99 191.30,73.17 192.30,72.37 193.30,71.60 194.30,70.85 195.30,70.13 196.30,69.42 197.30,68.74 198.30,68.08 199.30,67.45 200.30,66.84 201.30,66.25 202.30,65.68 203.30,65.14 204.30,64.62 205.30,64.12 206.30,63.64 207.30,63.19 208.30,62.76 209.30,62.35 210.30,61.97 211.30,61.61 212.30,61.27 213.30,60.95 214.30,60.66 215.30,60.38 216.30,60.14 217.30,59.91 218.30,59.70 219.30,59.52 220.30,59.36 221.30,59.22 222.30,59.10 223.30,59.01 224.30,58.93 225.30,58.87 226.30,58.82 227.30,58.80 228.30,58.79 229.30,58.80 230.30,58.84 231.30,58.89 232.30,58.96 233.30,59.06 234.30,59.17 235.30,59.31 236.30,59.46 237.30,59.63 238.30,59.83 239.30,60.04 240.30,60.27 241.30,60.51 242.30,60.78 243.30,61.07 244.30,61.37 245.30,61.69 246.30,62.03 247.30,62.39 248.30,62.76 249.30,63.15 250.30,63.56 251.30,63.98 252.30,64.42 253.30,64.88 254.30,65.35 255.30,65.84 256.30,66.35 257.30,66.87 258.30,67.40 259.30,67.95 260.30,68.52 261.30,69.10 262.30,69.69 263.30,70.29 264.30,70.90 265.30,71.53 266.30,72.17 267.30,72.82 268.30,73.47 269.30,74.14 270.30,74.82 271.30,75.51 272.30,76.20 273.30,76.91 274.30,77.62 275.30,78.34 276.30,79.06 277.30,79.79 278.30,80.53 279.30,81.27 280.30,82.02 281.30,82.77 282.30,83.52 283.30,84.28 284.30,85.05 285.30,85.81 286.30,86.58 287.30,87.35 288.30,88.12 289.30,88.89 290.30,89.66 291.30,90.43 292.30,91.20 293.30,91.98 294.30,92.75 295.30,93.52 296.30,94.28 297.30,95.05 298.30,95.82 299.30,96.58 300.30,97.35 301.30,98.13 302.30,98.90 303.30,99.67 304.30,100.44 305.30,101.20 306.30,101.97 307.30,102.72 308.30,103.48 309.30,104.23 310.30,104.97 311.30,105.71 312.30,106.45 313.30,107.18 314.30,107.90 315.30,108.62 316.30,109.33 317.30,110.04 318.30,110.74 319.30,111.44 320.30,112.12 321.30,112.80 322.30,113.48 323.30,114.14 324.30,114.80 325.30,115.45 326.30,116.09 327.30,116.73 328.30,117.35 329.30,117.97 330.30,118.57 331.30,119.17 332.30,119.76 333.30,120.33 334.30,120.90 335.30,121.46 336.30,122.01 337.30,122.54 338.30,123.07 339.30,123.58 340.30,124.08 341.30,124.57 342.30,125.05 343.30,125.52 344.30,125.97 345.30,126.41 346.30,126.84 347.30,127.26 348.30,127.66 349.30,128.05 350.30,128.42 351.30,128.78 352.30,129.13 353.30,129.46 354.30,129.78 355.30,130.08 356.30,130.36 357.30,130.64 358.30,130.89 359.30,131.13 360.30,131.35 361.30,131.56 362.30,131.75 363.30,131.93 364.30,132.08 365.30,132.22 366.30,132.34 367.30,132.45 368.30,132.53 369.30,132.60 370.30,132.65 371.30,132.68 372.30,132.69 373.30,132.68 374.30,132.65" stroke="#34346e"/>
<polyline points="62.30,214.72 63.30,214.32 64.30,213.90 65.30,213.45 66.30,212.98 67.30,212.49 68.30,211.97 69.30,211.43 70.30,210.87 71.30,210.28 72.30,209.68 73.30,209.05 74.30,208.40 75.30,207.73 76.30,207.04 77.30,206.32 78.30,205.59 79.30,204.84 80.30,204.07 81.30,203.28 82.30,202.48 83.30,201.65 84.30,200.81 85.30,199.95 86.30,199.07 87.30,198.17 88.30,197.26 89.30,196.33 90.30,195.39 91.30,194.43 92.30,193.45 93.30,192.46 94.30,191.46 95.30,190.44 96.30,189.40 97.30,188.36 98.30,187.30 99.30,186.22 100.30,185.14 101.30,184.04 102.30,182.93 103.30,181.81 104.30,180.68 105.30,179.53 106.30,178.38 107.30,177.21 108.30,176.04 109.30,174.85 110.30,173.66 111.30,172.45 112.30,171.24 113.30,170.02 114.30,168.79 115.30,167.56 116.30,166.31 117.30,165.06 118.30,163.80 119.30,162.54 120.30,161.27 121.30,159.99 122.30,158.71 123.30,157.43 124.30,156.13 125.30,154.84 126.30,153.54 127.30,152.23 128.30,150.93 129.30,149.62 130.30,148.30 131.30,146.99 132.30,145.67 133.30,144.35 134.30,143.03 135.30,141.71 136.30,140.39 137.30,139.06 138.30,137.74 139.30,136.41 140.30,135.09 141.30,133.77 142.30,132.45 143.30,131.13 144.30,129.81 145.30,128.49 146.30,127.18 147.30,125.87 148.30,124.56 149.30,123.26 150.30,121.96 151.30,120.66 152.30,119.37 153.30,118.08 154.30,116.80 155.30,115.52 156.30,114.25 157.30,112.99 158.30,111.73 159.30,110.48 160.30,109.23 161.30,107.99 162.30,106.76 163.30,105.54 164.30,104.33 165.30,103.12 166.30,101.93 167.30,100.74 168.30,99.57 169.30,98.40 170.30,97.24 171.30,96.10 172.30,94.96 173.30,93.84 174.30,92.73 175.30,91.63 176.30,90.55 177.30,89.48 178.30,88.43 179.30,87.39 180.30,86.36 181.30,85.36 182.30,84.37 183.30,83.39 184.30,82.44 185.30,81.50 186.30,80.59 187.30,79.69 188.30,78.82 189.30,77.96 190.30,77.13 191.30,76.31 192.30,75.52 193.30,74.75 194.30,74.01 195.30,73.29 196.30,72.58 197.30,71.91 198.30,71.25 199.30,70.62 200.30,70.01 201.30,69.42 202.30,68.86 203.30,68.32 204.30,67.80 205.30,67.30 206.30,66.83 207.30,66.38 208.30,65.95 209.30,65.54 210.30,65.16 211.30,64.79 212.30,64.45 213.30,64.14 214.30,63.84 215.30,63.57 216.30,63.32 217.30,63.09 218.30,62.88 219.30,62.69 220.30,62.53 221.30,62.39 222.30,62.27 223.30,62.17 224.30,62.09 225.30,62.03 226.30,61.99 227.30,61.97 228.30,61.98 229.30,62.00 230.30,62.04 231.30,62.11 232.30,62.19 233.30,62.29 234.30,62.41 235.30,62.55 236.30,62.71 237.30,62.89 238.30,63.09 239.30,63.31 240.30,63.54 241.30,63.79 242.30,64.07 243.30,64.36 244.30,64.66 245.30,64.99 246.30,65.33 247.30,65.69 248.30,66.07 249.30,66.46 250.30,66.88 251.30,67.31 252.30,67.75 253.30,68.21 254.30,68.69 255.30,69.19 256.30,69.70 257.30,70.22 258.30,70.76 259.30,71.32 260.30,71.89 261.30,72.48 262.30,73.07 263.30,73.68 264.30,74.30 265.30,74.94 266.30,75.58 267.30,76.24 268.30,76.91 269.30,77.58 270.30,78.27 271.30,78.97 272.30,79.67 273.30,80.38 274.30,81.10 275.30,81.83 276.30,82.56 277.30,83.30 278.30,84.05 279.30,84.80 280.30,85.55 281.30,86.31 282.30,87.08 283.30,87.84 284.30,88.61 285.30,89.39 286.30,90.16 287.30,90.94 288.30,91.72 289.30,92.49 290.30,93.27 291.30,94.05 292.30,94.83 293.30,95.61 294.30,96.38 295.30,97.16 296.30,97.93 297.30,98.70 298.30,99.48 299.30,100.24 300.30,101.01 301.30,101.77 302.30,102.54 303.30,103.30 304.30,104.05 305.30,104.80 306.30,105.55 307.30,106.30 308.30,107.04 309.30,107.78 310.30,108.51 311.30,109.24 312.30,109.96 313.30,110.68 314.30,111.39 315.30,112.10 316.30,112.80 317.30,113.50 318.30,114.18 319.30,114.87 320.30,115.54 321.30,116.21 322.30,116.88 323.30,117.53 324.30,118.18 325.30,118.82 326.30,119.45 327.30,120.08 328.30,120.69 329.30,121.30 330.30,121.90 331.30,122.49 332.30,123.07 333.30,123.64 334.30,124.20 335.30,124.75 336.30,125.30 337.30,125.83 338.30,126.35 339.30,126.86 340.30,127.36 341.30,127.84 342.30,128.32 343.30,128.78 344.30,129.24 345.30,129.68 346.30,130.10 347.30,130.52 348.30,130.92 349.30,131.31 350.30,131.69 351.30,132.05 352.30,132.40 353.30,132.74 354.30,133.06 355.30,133.37 356.30,133.66 357.30,133.94 358.30,134.20 359.30,134.45 360.30,134.68 361.30,134.90 362.30,135.10 363.30,135.29 364.30,135.45 365.30,135.61 366.30,135.74 367.30,135.86 368.30,135.96 369.30,136.05 370.30,136.11 371.30,136.16 372.30,136.19 373.30,136.21 374.30,136.20" stroke="#6e2e84"/>
<polyline points="470.80,238.21 471.80,238.03 472.80,237.84 473.80,237.65 474.80,237.45 475.80,237.23 476.80,237.01 477.80,236.78 478.80,236.54 479.80,236.29 480.80,236.03 481.80,235.75 482.80,235.47 483.80,235.17 484.80,234.85 485.80,234.52 486.80,234.17 487.80,233.81 488.80,233.44 489.80,233.04 490.80,232.63 491.80,232.20 492.80,231.75 493.80,231.28 494.80,230.79 495.80,230.28 496.80,229.75 497.80,229.19 498.80,228.62 499.80,228.02 500.80,227.39 501.80,226.75 502.80,226.07 503.80,225.38 504.80,224.65 505.80,223.90 506.80,223.12 507.80,222.32 508.80,221.49 509.80,220.63 510.80,219.75 511.80,218.84 512.80,217.91 513.80,216.96 514.80,215.98 515.80,214.98 516.80,213.95 517.80,212.90 518.80,211.83 519.80,210.74 520.80,209.63 521.80,208.49 522.80,207.34 523.80,206.16 524.80,204.96 525.80,203.74 526.80,202.51 527.80,201.25 528.80,199.98 529.80,198.68 530.80,197.37 531.80,196.04 532.80,194.69 533.80,193.32 534.80,191.93 535.80,190.53 536.80,189.10 537.80,187.64 538.80,186.17 539.80,184.68 540.80,183.16 541.80,181.63 542.80,180.07 543.80,178.48 544.80,176.88 545.80,175.25 546.80,173.60 547.80,171.92 548.80,170.22 549.80,168.49 550.80,166.74 551.80,164.97 552.80,163.17 553.80,161.34 554.80,159.48 555.80,157.61 556.80,155.70 557.80,153.78 558.80,151.84 559.80,149.89 560.80,147.93 561.80,145.95 562.80,143.97 563.80,141.99 564.80,140.00 565.80,138.01 566.80,136.03 567.80,134.06 568.80,132.09 569.80,130.13 570.80,128.19 571.80,126.27 572.80,124.36 573.80,122.48 574.80,120.62 575.80,118.79 576.80,116.99 577.80,115.22 578.80,113.48 579.80,111.77 580.80,110.09 581.80,108.45 582.80,106.83 583.80,105.24 584.80,103.69 585.80,102.17 586.80,100.68 587.80,99.22 588.80,97.79 589.80,96.40 590.80,95.03 591.80,93.71 592.80,92.41 593.80,91.15 594.80,89.92 595.80,88.72 596.80,87.56 597.80,86.43 598.80,85.33 599.80,84.27 600.80,83.25 601.80,82.26 602.80,81.30 603.80,80.38 604.80,79.49 605.80,78.64 606.80,77.82 607.80,77.04 608.80,76.30 609.80,75.59 610.80,74.92 611.80,74.28 612.80,73.69 613.80,73.12 614.80,72.60 615.80,72.11 616.80,71.66 617.80,71.25 618.80,70.87 619.80,70.53 620.80,70.23 621.80,69.97 622.80,69.75 623.80,69.56 624.80,69.42 625.80,69.31 626.80,69.25 627.80,69.22 628.80,69.23 629.80,69.28 630.80,69.37 631.80,69.50 632.80,69.68 633.80,69.89 634.80,70.14 635.80,70.43 636.80,70.77 637.80,71.14 638.80,71.56 639.80,72.02 640.80,72.52 641.80,73.06 642.80,73.65 643.80,74.27 644.80,74.94 645.80,75.66 646.80,76.41 647.80,77.21 648.80,78.05 649.80,78.93 650.80,79.86 651.80,80.82 652.80,81.83 653.80,82.87 654.80,83.95 655.80,85.07 656.80,86.22 657.80,87.41 658.80,88.63 659.80,89.89 660.80,91.18 661.80,92.49 662.80,93.84 663.80,95.22 664.80,96.63 665.80,98.06 666.80,99.52 667.80,101.01 668.80,102.52 669.80,104.05 670.80,105.61 671.80,107.19 672.80,108.79 673.80,110.41 674.80,112.04 675.80,113.70 676.80,115.38 677.80,117.07 678.80,118.77 679.80,120.49 680.80,122.22 681.80,123.97 682.80,125.73 683.80,127.50 684.80,129.28 685.80,131.06 686.80,132.86 687.80,134.66 688.80,136.47 689.80,138.28 690.80,140.10 691.80,141.92 692.80,143.74 693.80,145.57 694.80,147.39 695.80,149.22 696.80,151.04 697.80,152.86 698.80,154.68 699.80,156.49 700.80,158.30 701.80,160.10 702.80,161.90 703.80,163.68 704.80,165.46 705.80,167.23 706.80,168.99 707.80,170.74 708.80,172.47 709.80,174.19 710.80,175.90 711.80,177.59 712.80,179.26 713.80,180.92 714.80,182.56 715.80,184.18 716.80,185.78 717.80,187.36 718.80,188.92 719.80,190.45 720.80,191.96 721.80,193.45 722.80,194.91 723.80,196.35 724.80,197.75 725.80,199.13 726.80,200.48 727.80,201.80 728.80,203.09 729.80,204.35 730.80,205.58 731.80,206.79 732.80,207.96 733.80,209.10 734.80,210.22 735.80,211.31 736.80,212.37 737.80,213.40 738.80,214.40 739.80,215.38 740.80,216.33 741.80,217.25 742.80,218.14 743.80,219.00 744.80,219.84 745.80,220.65 746.80,221.44 747.80,222.20 748.80,222.93 749.80,223.63 750.80,224.31 751.80,224.97 752.80,225.59 753.80,226.20 754.80,226.77 755.80,227.33 756.80,227.85 757.80,228.35 758.80,228.83 759.80,229.28 760.80,229.71 761.80,230.11 762.80,230.49 763.80,230.84 764.80,231.17 765.80,231.48 766.80,231.76 767.80,232.02 768.80,232.26 769.80,232.48 770.80,232.67 771.80,232.83 772.80,232.98 773.80,233.10 774.80,233.20 775.80,233.28 776.80,233.34 777.80,233.37 778.80,233.39 779.80,233.38 780.80,233.35 781.80,233.30 782.80,233.22" stroke="#151515"/>
<polyline points="470.80,238.35 471.80,238.18 472.80,238.00 473.80,237.81 474.80,237.61 475.80,237.40 476.80,237.18 477.80,236.95 478.80,236.72 479.80,236.47 480.80,236.21 481.80,235.94 482.80,235.65 483.80,235.36 484.80,235.04 485.80,234.72 486.80,234.38 487.80,234.02 488.80,233.65 489.80,233.26 490.80,232.86 491.80,232.43 492.80,231.99 493.80,231.53 494.80,231.05 495.80,230.55 496.80,230.03 497.80,229.49 498.80,228.93 499.80,228.35 500.80,227.74 501.80,227.11 502.80,226.46 503.80,225.78 504.80,225.08 505.80,224.35 506.80,223.60 507.80,222.82 508.80,222.02 509.80,221.19 510.80,220.34 511.80,219.46 512.80,218.57 513.80,217.64 514.80,216.70 515.80,215.73 516.80,214.74 517.80,213.73 518.80,212.69 519.80,211.64 520.80,210.56 521.80,209.46 522.80,208.34 523.80,207.20 524.80,206.04 525.80,204.86 526.80,203.66 527.80,202.44 528.80,201.20 529.80,199.95 530.80,198.67 531.80,197.38 532.80,196.06 533.80,194.73 534.80,193.37 535.80,192.00 536.80,190.60 537.80,189.19 538.80,187.75 539.80,186.29 540.80,184.81 541.80,183.31 542.80,181.79 543.80,180.24 544.80,178.67 545.80,177.08 546.80,175.46 547.80,173.82 548.80,172.16 549.80,170.47 550.80,168.76 551.80,167.03 552.80,165.27 553.80,163.48 554.80,161.67 555.80,159.84 556.80,157.98 557.80,156.11 558.80,154.22 559.80,152.31 560.80,150.40 561.80,148.47 562.80,146.54 563.80,144.61 564.80,142.67 565.80,140.74 566.80,138.81 567.80,136.88 568.80,134.97 569.80,133.06 570.80,131.17 571.80,129.29 572.80,127.43 573.80,125.59 574.80,123.78 575.80,121.99 576.80,120.23 577.80,118.50 578.80,116.79 579.80,115.12 580.80,113.47 581.80,111.85 582.80,110.27 583.80,108.71 584.80,107.18 585.80,105.68 586.80,104.22 587.80,102.78 588.80,101.37 589.80,100.00 590.80,98.66 591.80,97.35 592.80,96.07 593.80,94.82 594.80,93.60 595.80,92.42 596.80,91.27 597.80,90.16 598.80,89.07 599.80,88.02 600.80,87.01 601.80,86.03 602.80,85.08 603.80,84.16 604.80,83.29 605.80,82.44 606.80,81.63 607.80,80.86 608.80,80.12 609.80,79.42 610.80,78.75 611.80,78.12 612.80,77.53 613.80,76.97 614.80,76.46 615.80,75.97 616.80,75.53 617.80,75.12 618.80,74.75 619.80,74.42 620.80,74.13 621.80,73.87 622.80,73.66 623.80,73.48 624.80,73.34 625.80,73.24 626.80,73.18 627.80,73.16 628.80,73.18 629.80,73.23 630.80,73.33 631.80,73.46 632.80,73.64 633.80,73.85 634.80,74.11 635.80,74.40 636.80,74.74 637.80,75.12 638.80,75.53 639.80,75.99 640.80,76.49 641.80,77.02 642.80,77.60 643.80,78.22 644.80,78.88 645.80,79.59 646.80,80.33 647.80,81.12 648.80,81.95 649.80,82.81 650.80,83.72 651.80,84.67 652.80,85.66 653.80,86.68 654.80,87.74 655.80,88.84 656.80,89.97 657.80,91.13 658.80,92.33 659.80,93.56 660.80,94.82 661.80,96.11 662.80,97.43 663.80,98.78 664.80,100.16 665.80,101.56 666.80,102.99 667.80,104.45 668.80,105.93 669.80,107.43 670.80,108.95 671.80,110.50 672.80,112.06 673.80,113.65 674.80,115.25 675.80,116.87 676.80,118.51 677.80,120.16 678.80,121.83 679.80,123.51 680.80,125.20 681.80,126.91 682.80,128.63 683.80,130.36 684.80,132.10 685.80,133.84 686.80,135.60 687.80,137.36 688.80,139.12 689.80,140.90 690.80,142.67 691.80,144.45 692.80,146.23 693.80,148.01 694.80,149.79 695.80,151.58 696.80,153.36 697.80,155.13 698.80,156.91 699.80,158.68 700.80,160.44 701.80,162.20 702.80,163.96 703.80,165.70 704.80,167.44 705.80,169.16 706.80,170.88 707.80,172.58 708.80,174.27 709.80,175.95 710.80,177.62 711.80,179.27 712.80,180.90 713.80,182.52 714.80,184.11 715.80,185.69 716.80,187.25 717.80,188.79 718.80,190.31 719.80,191.81 720.80,193.28 721.80,194.73 722.80,196.16 723.80,197.56 724.80,198.93 725.80,200.27 726.80,201.59 727.80,202.87 728.80,204.13 729.80,205.36 730.80,206.56 731.80,207.73 732.80,208.87 733.80,209.98 734.80,211.07 735.80,212.13 736.80,213.16 737.80,214.16 738.80,215.13 739.80,216.08 740.80,217.00 741.80,217.89 742.80,218.76 743.80,219.60 744.80,220.41 745.80,221.20 746.80,221.96 747.80,222.69 748.80,223.40 749.80,224.09 750.80,224.74 751.80,225.38 752.80,225.99 753.80,226.57 754.80,227.13 755.80,227.66 756.80,228.17 757.80,228.66 758.80,229.12 759.80,229.56 760.80,229.98 761.80,230.37 762.80,230.74 763.80,231.08 764.80,231.40 765.80,231.70 766.80,231.98 767.80,232.24 768.80,232.47 769.80,232.68 770.80,232.87 771.80,233.04 772.80,233.18 773.80,233.31 774.80,233.41 775.80,233.50 776.80,233.56 777.80,233.60 778.80,233.62 779.80,233.62 780.80,233.61 781.80,233.57 782.80,233.51" stroke="#d83c3c"/>
<polyline points="470.80,238.45 471.80,238.28 472.80,238.10 473.80,237.91 474.80,237.71 475.80,237.51 476.80,237.29 477.80,237.07 478.80,236.83 479.80,236.59 480.80,236.33 481.80,236.06 482.80,235.78 483.80,235.48 484.80,235.17 485.80,234.85 486.80,234.51 487.80,234.16 488.80,233.79 489.80,233.41 490.80,233.01 491.80,232.59 492.80,232.15 493.80,231.70 494.80,231.23 495.80,230.74 496.80,230.23 497.80,229.69 498.80,229.14 499.80,228.57 500.80,227.97 501.80,227.36 502.80,226.72 503.80,226.05 504.80,225.36 505.80,224.65 506.80,223.92 507.80,223.16 508.80,222.37 509.80,221.56 510.80,220.73 511.80,219.88 512.80,219.00 513.80,218.10 514.80,217.18 515.80,216.23 516.80,215.27 517.80,214.28 518.80,213.27 519.80,212.24 520.80,211.18 521.80,210.11 522.80,209.01 523.80,207.90 524.80,206.76 525.80,205.61 526.80,204.43 527.80,203.23 528.80,202.02 529.80,200.79 530.80,199.53 531.80,198.26 532.80,196.97 533.80,195.66 534.80,194.33 535.80,192.98 536.80,191.61 537.80,190.21 538.80,188.80 539.80,187.37 540.80,185.91 541.80,184.43 542.80,182.93 543.80,181.41 544.80,179.86 545.80,178.30 546.80,176.71 547.80,175.09 548.80,173.46 549.80,171.79 550.80,170.11 551.80,168.40 552.80,166.67 553.80,164.91 554.80,163.13 555.80,161.32 556.80,159.50 557.80,157.66 558.80,155.80 559.80,153.93 560.80,152.05 561.80,150.16 562.80,148.26 563.80,146.36 564.80,144.46 565.80,142.56 566.80,140.66 567.80,138.77 568.80,136.88 569.80,135.01 570.80,133.15 571.80,131.30 572.80,129.48 573.80,127.67 574.80,125.88 575.80,124.12 576.80,122.39 577.80,120.68 578.80,119.00 579.80,117.34 580.80,115.72 581.80,114.12 582.80,112.56 583.80,111.02 584.80,109.51 585.80,108.03 586.80,106.58 587.80,105.15 588.80,103.76 589.80,102.40 590.80,101.07 591.80,99.77 592.80,98.50 593.80,97.27 594.80,96.06 595.80,94.89 596.80,93.75 597.80,92.64 598.80,91.57 599.80,90.52 600.80,89.51 601.80,88.54 602.80,87.60 603.80,86.69 604.80,85.81 605.80,84.98 606.80,84.17 607.80,83.40 608.80,82.67 609.80,81.97 610.80,81.31 611.80,80.68 612.80,80.10 613.80,79.54 614.80,79.03 615.80,78.55 616.80,78.11 617.80,77.71 618.80,77.34 619.80,77.01 620.80,76.73 621.80,76.48 622.80,76.26 623.80,76.09 624.80,75.96 625.80,75.86 626.80,75.80 627.80,75.79 628.80,75.81 629.80,75.87 630.80,75.97 631.80,76.10 632.80,76.28 633.80,76.50 634.80,76.76 635.80,77.05 636.80,77.39 637.80,77.76 638.80,78.18 639.80,78.63 640.80,79.13 641.80,79.66 642.80,80.24 643.80,80.86 644.80,81.51 645.80,82.21 646.80,82.95 647.80,83.72 648.80,84.54 649.80,85.40 650.80,86.30 651.80,87.23 652.80,88.21 653.80,89.22 654.80,90.27 655.80,91.35 656.80,92.46 657.80,93.61 658.80,94.80 659.80,96.01 660.80,97.25 661.80,98.53 662.80,99.83 663.80,101.16 664.80,102.52 665.80,103.90 666.80,105.31 667.80,106.74 668.80,108.20 669.80,109.68 670.80,111.18 671.80,112.70 672.80,114.25 673.80,115.81 674.80,117.39 675.80,118.98 676.80,120.59 677.80,122.22 678.80,123.86 679.80,125.52 680.80,127.19 681.80,128.87 682.80,130.56 683.80,132.27 684.80,133.98 685.80,135.70 686.80,137.42 687.80,139.16 688.80,140.89 689.80,142.64 690.80,144.39 691.80,146.14 692.80,147.89 693.80,149.64 694.80,151.40 695.80,153.15 696.80,154.90 697.80,156.65 698.80,158.40 699.80,160.14 700.80,161.87 701.80,163.61 702.80,165.33 703.80,167.04 704.80,168.75 705.80,170.45 706.80,172.14 707.80,173.81 708.80,175.48 709.80,177.13 710.80,178.76 711.80,180.38 712.80,181.99 713.80,183.58 714.80,185.15 715.80,186.70 716.80,188.24 717.80,189.75 718.80,191.24 719.80,192.71 720.80,194.16 721.80,195.59 722.80,196.99 723.80,198.36 724.80,199.71 725.80,201.03 726.80,202.32 727.80,203.59 728.80,204.82 729.80,206.03 730.80,207.21 731.80,208.36 732.80,209.48 733.80,210.57 734.80,211.64 735.80,212.67 736.80,213.68 737.80,214.66 738.80,215.62 739.80,216.55 740.80,217.45 741.80,218.32 742.80,219.17 743.80,219.99 744.80,220.79 745.80,221.56 746.80,222.30 747.80,223.02 748.80,223.72 749.80,224.39 750.80,225.03 751.80,225.65 752.80,226.25 753.80,226.82 754.80,227.37 755.80,227.89 756.80,228.39 757.80,228.86 758.80,229.32 759.80,229.75 760.80,230.15 761.80,230.54 762.80,230.90 763.80,231.24 764.80,231.56 765.80,231.85 766.80,232.13 767.80,232.38 768.80,232.61 769.80,232.82 770.80,233.01 771.80,233.17 772.80,233.32 773.80,233.45 774.80,233.55 775.80,233.64 776.80,233.71 777.80,233.75 778.80,233.78 779.80,233.79 780.80,233.78 781.80,233.75 782.80,233.70" stroke="#6ab850"/>
<polyline points="470.80,238.60 471.80,238.43 472.80,238.25 473.80,238.07 474.80,237.87 475.80,237.67 476.80,237.46 477.80,237.24 478.80,237.01 479.80,236.76 480.80,236.51 481.80,236.24 482.80,235.96 483.80,235.67 484.80,235.37 485.80,235.05 486.80,234.72 487.80,234.37 488.80,234.01 489.80,233.63 490.80,233.24 491.80,232.83 492.80,232.40 493.80,231.95 494.80,231.49 495.80,231.01 496.80,230.51 497.80,229.99 498.80,229.46 499.80,228.90 500.80,228.32 501.80,227.72 502.80,227.10 503.80,226.46 504.80,225.79 505.80,225.10 506.80,224.39 507.80,223.66 508.80,222.90 509.80,222.12 510.80,221.32 511.80,220.50 512.80,219.66 513.80,218.79 514.80,217.90 515.80,216.99 516.80,216.06 517.80,215.10 518.80,214.13 519.80,213.13 520.80,212.12 521.80,211.08 522.80,210.02 523.80,208.94 524.80,207.84 525.80,206.72 526.80,205.58 527.80,204.42 528.80,203.25 529.80,202.05 530.80,200.83 531.80,199.60 532.80,198.34 533.80,197.06 534.80,195.77 535.80,194.45 536.80,193.11 537.80,191.76 538.80,190.38 539.80,188.98 540.80,187.56 541.80,186.11 542.80,184.65 543.80,183.16 544.80,181.66 545.80,180.12 546.80,178.57 547.80,177.00 548.80,175.40 549.80,173.77 550.80,172.13 551.80,170.46 552.80,168.77 553.80,167.05 554.80,165.31 555.80,163.55 556.80,161.78 557.80,159.98 558.80,158.17 559.80,156.35 560.80,154.52 561.80,152.68 562.80,150.83 563.80,148.98 564.80,147.13 565.80,145.28 566.80,143.44 567.80,141.60 568.80,139.76 569.80,137.94 570.80,136.12 571.80,134.33 572.80,132.54 573.80,130.78 574.80,129.04 575.80,127.32 576.80,125.62 577.80,123.95 578.80,122.31 579.80,120.69 580.80,119.10 581.80,117.53 582.80,115.99 583.80,114.48 584.80,113.00 585.80,111.54 586.80,110.11 587.80,108.72 588.80,107.35 589.80,106.01 590.80,104.69 591.80,103.41 592.80,102.16 593.80,100.94 594.80,99.75 595.80,98.59 596.80,97.46 597.80,96.37 598.80,95.30 599.80,94.27 600.80,93.27 601.80,92.31 602.80,91.37 603.80,90.47 604.80,89.61 605.80,88.78 606.80,87.98 607.80,87.22 608.80,86.49 609.80,85.80 610.80,85.14 611.80,84.52 612.80,83.94 613.80,83.39 614.80,82.89 615.80,82.41 616.80,81.98 617.80,81.58 618.80,81.22 619.80,80.90 620.80,80.62 621.80,80.38 622.80,80.17 623.80,80.01 624.80,79.88 625.80,79.79 626.80,79.74 627.80,79.73 628.80,79.75 629.80,79.82 630.80,79.92 631.80,80.06 632.80,80.25 633.80,80.47 634.80,80.72 635.80,81.02 636.80,81.36 637.80,81.73 638.80,82.15 639.80,82.60 640.80,83.09 641.80,83.63 642.80,84.20 643.80,84.80 644.80,85.45 645.80,86.14 646.80,86.87 647.80,87.63 648.80,88.44 649.80,89.28 650.80,90.16 651.80,91.08 652.80,92.04 653.80,93.03 654.80,94.05 655.80,95.12 656.80,96.21 657.80,97.34 658.80,98.49 659.80,99.68 660.80,100.90 661.80,102.15 662.80,103.42 663.80,104.72 664.80,106.05 665.80,107.41 666.80,108.78 667.80,110.19 668.80,111.61 669.80,113.06 670.80,114.53 671.80,116.01 672.80,117.52 673.80,119.05 674.80,120.59 675.80,122.15 676.80,123.73 677.80,125.32 678.80,126.92 679.80,128.54 680.80,130.17 681.80,131.81 682.80,133.46 683.80,135.13 684.80,136.80 685.80,138.48 686.80,140.16 687.80,141.85 688.80,143.55 689.80,145.25 690.80,146.96 691.80,148.67 692.80,150.38 693.80,152.09 694.80,153.80 695.80,155.51 696.80,157.22 697.80,158.92 698.80,160.63 699.80,162.33 700.80,164.02 701.80,165.71 702.80,167.39 703.80,169.06 704.80,170.73 705.80,172.38 706.80,174.02 707.80,175.66 708.80,177.28 709.80,178.89 710.80,180.48 711.80,182.06 712.80,183.63 713.80,185.17 714.80,186.71 715.80,188.22 716.80,189.71 717.80,191.19 718.80,192.64 719.80,194.07 720.80,195.48 721.80,196.87 722.80,198.23 723.80,199.57 724.80,200.88 725.80,202.17 726.80,203.43 727.80,204.66 728.80,205.86 729.80,207.04 730.80,208.18 731.80,209.30 732.80,210.39 733.80,211.45 734.80,212.48 735.80,213.49 736.80,214.47 737.80,215.42 738.80,216.35 739.80,217.25 740.80,218.12 741.80,218.97 742.80,219.79 743.80,220.58 744.80,221.36 745.80,222.10 746.80,222.82 747.80,223.52 748.80,224.19 749.80,224.84 750.80,225.46 751.80,226.06 752.80,226.64 753.80,227.19 754.80,227.72 755.80,228.23 756.80,228.71 757.80,229.17 758.80,229.61 759.80,230.03 760.80,230.42 761.80,230.80 762.80,231.15 763.80,231.48 764.80,231.79 765.80,232.07 766.80,232.34 767.80,232.59 768.80,232.82 769.80,233.02 770.80,233.21 771.80,233.38 772.80,233.53 773.80,233.65 774.80,233.76 775.80,233.86 776.80,233.93 777.80,233.98 778.80,234.02 779.80,234.04 780.80,234.04 781.80,234.02 782.80,233.98" stroke="#3574bd"/>
<polyline points="470.80,238.66 471.80,238.50 472.80,238.32 473.80,238.14 474.80,237.95 475.80,237.75 476.80,237.54 477.80,237.32 478.80,237.09 479.80,236.85 480.80,236.59 481.80,236.33 482.80,236.05 483.80,235.76 484.80,235.46 485.80,235.14 486.80,234.81 487.80,234.47 488.80,234.11 489.80,233.73 490.80,233.34 491.80,232.94 492.80,232.51 493.80,232.07 494.80,231.62 495.80,231.14 496.80,230.65 497.80,230.13 498.80,229.60 499.80,229.05 500.80,228.48 501.80,227.89 502.80,227.28 503.80,226.65 504.80,225.99 505.80,225.31 506.80,224.61 507.80,223.89 508.80,223.15 509.80,222.39 510.80,221.60 511.80,220.79 512.80,219.96 513.80,219.11 514.80,218.24 515.80,217.34 516.80,216.43 517.80,215.49 518.80,214.53 519.80,213.55 520.80,212.55 521.80,211.53 522.80,210.49 523.80,209.43 524.80,208.35 525.80,207.24 526.80,206.12 527.80,204.98 528.80,203.82 529.80,202.64 530.80,201.44 531.80,200.22 532.80,198.98 533.80,197.72 534.80,196.44 535.80,195.14 536.80,193.82 537.80,192.48 538.80,191.11 539.80,189.73 540.80,188.33 541.80,186.90 542.80,185.45 543.80,183.98 544.80,182.49 545.80,180.98 546.80,179.44 547.80,177.88 548.80,176.30 549.80,174.70 550.80,173.07 551.80,171.42 552.80,169.75 553.80,168.05 554.80,166.33 555.80,164.60 556.80,162.84 557.80,161.07 558.80,159.28 559.80,157.48 560.80,155.67 561.80,153.86 562.80,152.03 563.80,150.21 564.80,148.38 565.80,146.56 566.80,144.73 567.80,142.91 568.80,141.10 569.80,139.30 570.80,137.51 571.80,135.74 572.80,133.97 573.80,132.23 574.80,130.51 575.80,128.81 576.80,127.13 577.80,125.48 578.80,123.85 579.80,122.25 580.80,120.67 581.80,119.12 582.80,117.60 583.80,116.10 584.80,114.63 585.80,113.18 586.80,111.77 587.80,110.38 588.80,109.02 589.80,107.69 590.80,106.38 591.80,105.11 592.80,103.87 593.80,102.65 594.80,101.47 595.80,100.32 596.80,99.20 597.80,98.11 598.80,97.05 599.80,96.02 600.80,95.03 601.80,94.06 602.80,93.14 603.80,92.24 604.80,91.38 605.80,90.55 606.80,89.76 607.80,89.00 608.80,88.27 609.80,87.59 610.80,86.93 611.80,86.32 612.80,85.74 613.80,85.19 614.80,84.69 615.80,84.22 616.80,83.78 617.80,83.39 618.80,83.04 619.80,82.72 620.80,82.44 621.80,82.20 622.80,82.00 623.80,81.83 624.80,81.71 625.80,81.62 626.80,81.58 627.80,81.57 628.80,81.60 629.80,81.66 630.80,81.77 631.80,81.91 632.80,82.10 633.80,82.32 634.80,82.58 635.80,82.88 636.80,83.21 637.80,83.59 638.80,84.00 639.80,84.45 640.80,84.94 641.80,85.47 642.80,86.04 643.80,86.65 644.80,87.29 645.80,87.98 646.80,88.70 647.80,89.46 648.80,90.26 649.80,91.09 650.80,91.97 651.80,92.88 652.80,93.82 653.80,94.81 654.80,95.82 655.80,96.87 656.80,97.96 657.80,99.07 658.80,100.22 659.80,101.39 660.80,102.60 661.80,103.84 662.80,105.10 663.80,106.39 664.80,107.70 665.80,109.04 666.80,110.41 667.80,111.79 668.80,113.20 669.80,114.63 670.80,116.09 671.80,117.56 672.80,119.05 673.80,120.56 674.80,122.09 675.80,123.63 676.80,125.19 677.80,126.76 678.80,128.35 679.80,129.95 680.80,131.56 681.80,133.18 682.80,134.82 683.80,136.46 684.80,138.11 685.80,139.77 686.80,141.44 687.80,143.11 688.80,144.79 689.80,146.47 690.80,148.16 691.80,149.85 692.80,151.54 693.80,153.23 694.80,154.92 695.80,156.61 696.80,158.30 697.80,159.99 698.80,161.67 699.80,163.35 700.80,165.02 701.80,166.69 702.80,168.35 703.80,170.00 704.80,171.65 705.80,173.28 706.80,174.91 707.80,176.52 708.80,178.12 709.80,179.71 710.80,181.28 711.80,182.84 712.80,184.39 713.80,185.92 714.80,187.43 715.80,188.93 716.80,190.40 717.80,191.86 718.80,193.29 719.80,194.71 720.80,196.10 721.80,197.47 722.80,198.81 723.80,200.14 724.80,201.43 725.80,202.70 726.80,203.94 727.80,205.16 728.80,206.35 729.80,207.51 730.80,208.64 731.80,209.74 732.80,210.81 733.80,211.86 734.80,212.88 735.80,213.87 736.80,214.84 737.80,215.78 738.80,216.69 739.80,217.57 740.80,218.43 741.80,219.27 742.80,220.08 743.80,220.86 744.80,221.62 745.80,222.35 746.80,223.06 747.80,223.75 748.80,224.41 749.80,225.05 750.80,225.66 751.80,226.25 752.80,226.82 753.80,227.36 754.80,227.89 755.80,228.38 756.80,228.86 757.80,229.31 758.80,229.75 759.80,230.16 760.80,230.55 761.80,230.92 762.80,231.26 763.80,231.59 764.80,231.89 765.80,232.18 766.80,232.44 767.80,232.69 768.80,232.91 769.80,233.12 770.80,233.31 771.80,233.47 772.80,233.62 773.80,233.75 774.80,233.86 775.80,233.96 776.80,234.03 777.80,234.09 778.80,234.13 779.80,234.15 780.80,234.16 781.80,234.14 782.80,234.12" stroke="#92d6ea"/>
<polyline points="470.80,238.79 471.80,238.63 472.80,238.46 473.80,238.28 474.80,238.09 475.80,237.89 476.80,237.68 477.80,237.47 478.80,237.24 479.80,237.00 480.80,236.75 481.80,236.49 482.80,236.21 483.80,235.93 484.80,235.63 485.80,235.31 486.80,234.99 487.80,234.65 488.80,234.29 489.80,233.92 490.80,233.54 491.80,233.14 492.80,232.72 493.80,232.29 494.80,231.84 495.80,231.38 496.80,230.90 497.80,230.40 498.80,229.88 499.80,229.34 500.80,228.78 501.80,228.21 502.80,227.61 503.80,227.00 504.80,226.36 505.80,225.71 506.80,225.03 507.80,224.33 508.80,223.61 509.80,222.87 510.80,222.11 511.80,221.33 512.80,220.53 513.80,219.70 514.80,218.86 515.80,218.00 516.80,217.11 517.80,216.20 518.80,215.28 519.80,214.33 520.80,213.36 521.80,212.37 522.80,211.36 523.80,210.33 524.80,209.28 525.80,208.21 526.80,207.12 527.80,206.01 528.80,204.88 529.80,203.73 530.80,202.56 531.80,201.37 532.80,200.16 533.80,198.93 534.80,197.68 535.80,196.41 536.80,195.12 537.80,193.81 538.80,192.48 539.80,191.13 540.80,189.75 541.80,188.36 542.80,186.94 543.80,185.50 544.80,184.04 545.80,182.56 546.80,181.06 547.80,179.53 548.80,177.98 549.80,176.41 550.80,174.82 551.80,173.20 552.80,171.57 553.80,169.91 554.80,168.23 555.80,166.53 556.80,164.81 557.80,163.08 558.80,161.34 559.80,159.58 560.80,157.81 561.80,156.04 562.80,154.26 563.80,152.48 564.80,150.70 565.80,148.92 566.80,147.14 567.80,145.37 568.80,143.60 569.80,141.84 570.80,140.09 571.80,138.35 572.80,136.63 573.80,134.93 574.80,133.24 575.80,131.58 576.80,129.93 577.80,128.31 578.80,126.72 579.80,125.15 580.80,123.60 581.80,122.07 582.80,120.57 583.80,119.10 584.80,117.65 585.80,116.23 586.80,114.83 587.80,113.47 588.80,112.12 589.80,110.81 590.80,109.52 591.80,108.27 592.80,107.04 593.80,105.84 594.80,104.67 595.80,103.53 596.80,102.42 597.80,101.34 598.80,100.29 599.80,99.27 600.80,98.28 601.80,97.33 602.80,96.41 603.80,95.52 604.80,94.67 605.80,93.85 606.80,93.06 607.80,92.31 608.80,91.59 609.80,90.90 610.80,90.26 611.80,89.64 612.80,89.07 613.80,88.53 614.80,88.03 615.80,87.56 616.80,87.14 617.80,86.75 618.80,86.40 619.80,86.09 620.80,85.82 621.80,85.58 622.80,85.39 623.80,85.23 624.80,85.11 625.80,85.03 626.80,84.99 627.80,84.98 628.80,85.02 629.80,85.09 630.80,85.20 631.80,85.35 632.80,85.53 633.80,85.76 634.80,86.02 635.80,86.32 636.80,86.65 637.80,87.03 638.80,87.44 639.80,87.89 640.80,88.38 641.80,88.91 642.80,89.47 643.80,90.07 644.80,90.71 645.80,91.38 646.80,92.10 647.80,92.85 648.80,93.63 649.80,94.46 650.80,95.32 651.80,96.21 652.80,97.14 653.80,98.11 654.80,99.11 655.80,100.14 656.80,101.20 657.80,102.30 658.80,103.42 659.80,104.58 660.80,105.76 661.80,106.97 662.80,108.21 663.80,109.47 664.80,110.76 665.80,112.08 666.80,113.42 667.80,114.78 668.80,116.16 669.80,117.56 670.80,118.98 671.80,120.43 672.80,121.89 673.80,123.37 674.80,124.86 675.80,126.37 676.80,127.90 677.80,129.44 678.80,131.00 679.80,132.56 680.80,134.14 681.80,135.73 682.80,137.33 683.80,138.94 684.80,140.56 685.80,142.18 686.80,143.81 687.80,145.45 688.80,147.09 689.80,148.74 690.80,150.39 691.80,152.04 692.80,153.69 693.80,155.35 694.80,157.00 695.80,158.66 696.80,160.31 697.80,161.96 698.80,163.60 699.80,165.24 700.80,166.88 701.80,168.51 702.80,170.13 703.80,171.75 704.80,173.36 705.80,174.96 706.80,176.54 707.80,178.12 708.80,179.68 709.80,181.24 710.80,182.77 711.80,184.30 712.80,185.81 713.80,187.30 714.80,188.78 715.80,190.24 716.80,191.68 717.80,193.10 718.80,194.50 719.80,195.88 720.80,197.24 721.80,198.58 722.80,199.89 723.80,201.18 724.80,202.45 725.80,203.69 726.80,204.90 727.80,206.09 728.80,207.25 729.80,208.38 730.80,209.48 731.80,210.56 732.80,211.60 733.80,212.62 734.80,213.61 735.80,214.58 736.80,215.52 737.80,216.43 738.80,217.32 739.80,218.18 740.80,219.02 741.80,219.83 742.80,220.61 743.80,221.38 744.80,222.11 745.80,222.83 746.80,223.51 747.80,224.18 748.80,224.82 749.80,225.44 750.80,226.04 751.80,226.61 752.80,227.16 753.80,227.69 754.80,228.19 755.80,228.68 756.80,229.14 757.80,229.58 758.80,230.00 759.80,230.40 760.80,230.78 761.80,231.14 762.80,231.48 763.80,231.79 764.80,232.09 765.80,232.37 766.80,232.63 767.80,232.87 768.80,233.09 769.80,233.30 770.80,233.48 771.80,233.65 772.80,233.80 773.80,233.93 774.80,234.05 775.80,234.14 776.80,234.22 777.80,234.29 778.80,234.33 779.80,234.37 780.80,234.38 781.80,234.38 782.80,234.36" stroke="#d48ccc"/>
<polyline points="470.80,238.87 471.80,238.71 472.80,238.55 473.80,238.37 474.80,238.18 475.80,237.99 476.80,237.78 477.80,237.57 478.80,237.34 479.80,237.10 480.80,236.86 481.80,236.60 482.80,236.32 483.80,236.04 484.80,235.74 485.80,235.43 486.80,235.11 487.80,234.77 488.80,234.42 489.80,234.06 490.80,233.68 491.80,233.28 492.80,232.87 493.80,232.44 494.80,232.00 495.80,231.54 496.80,231.07 497.80,230.58 498.80,230.07 499.80,229.54 500.80,228.99 501.80,228.43 502.80,227.84 503.80,227.24 504.80,226.62 505.80,225.98 506.80,225.31 507.80,224.63 508.80,223.93 509.80,223.21 510.80,222.46 511.80,221.70 512.80,220.92 513.80,220.12 514.80,219.29 515.80,218.45 516.80,217.58 517.80,216.70 518.80,215.79 519.80,214.87 520.80,213.92 521.80,212.95 522.80,211.97 523.80,210.96 524.80,209.93 525.80,208.88 526.80,207.81 527.80,206.72 528.80,205.62 529.80,204.49 530.80,203.34 531.80,202.17 532.80,200.98 533.80,199.78 534.80,198.55 535.80,197.30 536.80,196.03 537.80,194.74 538.80,193.43 539.80,192.09 540.80,190.74 541.80,189.37 542.80,187.97 543.80,186.56 544.80,185.12 545.80,183.66 546.80,182.18 547.80,180.67 548.80,179.15 549.80,177.60 550.80,176.03 551.80,174.44 552.80,172.83 553.80,171.19 554.80,169.54 555.80,167.87 556.80,166.18 557.80,164.48 558.80,162.76 559.80,161.03 560.80,159.30 561.80,157.56 562.80,155.81 563.80,154.06 564.80,152.31 565.80,150.55 566.80,148.81 567.80,147.06 568.80,145.32 569.80,143.59 570.80,141.87 571.80,140.17 572.80,138.47 573.80,136.80 574.80,135.14 575.80,133.49 576.80,131.88 577.80,130.28 578.80,128.70 579.80,127.15 580.80,125.62 581.80,124.12 582.80,122.64 583.80,121.18 584.80,119.75 585.80,118.34 586.80,116.96 587.80,115.60 588.80,114.27 589.80,112.97 590.80,111.70 591.80,110.45 592.80,109.23 593.80,108.04 594.80,106.88 595.80,105.75 596.80,104.65 597.80,103.57 598.80,102.53 599.80,101.52 600.80,100.54 601.80,99.59 602.80,98.68 603.80,97.79 604.80,96.94 605.80,96.13 606.80,95.34 607.80,94.59 608.80,93.88 609.80,93.20 610.80,92.56 611.80,91.95 612.80,91.38 613.80,90.84 614.80,90.34 615.80,89.88 616.80,89.46 617.80,89.08 618.80,88.73 619.80,88.42 620.80,88.15 621.80,87.92 622.80,87.73 623.80,87.58 624.80,87.46 625.80,87.39 626.80,87.35 627.80,87.35 628.80,87.38 629.80,87.46 630.80,87.57 631.80,87.72 632.80,87.91 633.80,88.14 634.80,88.40 635.80,88.70 636.80,89.04 637.80,89.41 638.80,89.82 639.80,90.27 640.80,90.76 641.80,91.28 642.80,91.84 643.80,92.44 644.80,93.07 645.80,93.74 646.80,94.45 647.80,95.19 648.80,95.97 649.80,96.78 650.80,97.63 651.80,98.52 652.80,99.44 653.80,100.39 654.80,101.38 655.80,102.40 656.80,103.45 657.80,104.53 658.80,105.64 659.80,106.78 660.80,107.95 661.80,109.14 662.80,110.37 663.80,111.61 664.80,112.88 665.80,114.18 666.80,115.50 667.80,116.84 668.80,118.20 669.80,119.59 670.80,120.99 671.80,122.41 672.80,123.85 673.80,125.31 674.80,126.79 675.80,128.28 676.80,129.78 677.80,131.30 678.80,132.83 679.80,134.37 680.80,135.93 681.80,137.50 682.80,139.07 683.80,140.66 684.80,142.25 685.80,143.85 686.80,145.46 687.80,147.07 688.80,148.69 689.80,150.31 690.80,151.93 691.80,153.56 692.80,155.19 693.80,156.82 694.80,158.45 695.80,160.07 696.80,161.70 697.80,163.32 698.80,164.94 699.80,166.56 700.80,168.17 701.80,169.77 702.80,171.37 703.80,172.96 704.80,174.54 705.80,176.11 706.80,177.68 707.80,179.23 708.80,180.77 709.80,182.29 710.80,183.81 711.80,185.31 712.80,186.79 713.80,188.26 714.80,189.71 715.80,191.15 716.80,192.56 717.80,193.96 718.80,195.34 719.80,196.70 720.80,198.04 721.80,199.35 722.80,200.64 723.80,201.91 724.80,203.15 725.80,204.37 726.80,205.57 727.80,206.73 728.80,207.87 729.80,208.98 730.80,210.07 731.80,211.12 732.80,212.15 733.80,213.15 734.80,214.12 735.80,215.07 736.80,215.99 737.80,216.89 738.80,217.76 739.80,218.60 740.80,219.42 741.80,220.21 742.80,220.98 743.80,221.73 744.80,222.45 745.80,223.15 746.80,223.83 747.80,224.48 748.80,225.10 749.80,225.71 750.80,226.29 751.80,226.85 752.80,227.39 753.80,227.91 754.80,228.41 755.80,228.88 756.80,229.33 757.80,229.77 758.80,230.18 759.80,230.57 760.80,230.94 761.80,231.29 762.80,231.62 763.80,231.94 764.80,232.23 765.80,232.50 766.80,232.76 767.80,233.00 768.80,233.22 769.80,233.42 770.80,233.61 771.80,233.77 772.80,233.92 773.80,234.06 774.80,234.17 775.80,234.27 776.80,234.36 777.80,234.42 778.80,234.48 779.80,234.51 780.80,234.54 781.80,234.54 782.80,234.53" stroke="#eedc80"/>
<polyline points="470.80,238.97 471.80,238.81 472.80,238.65 473.80,238.47 474.80,238.29 475.80,238.10 476.80,237.89 477.80,237.68 478.80,237.46 479.80,237.22 480.80,236.98 481.80,236.72 482.80,236.45 483.80,236.17 484.80,235.87 485.80,235.57 486.80,235.25 487.80,234.91 488.80,234.56 489.80,234.20 490.80,233.83 491.80,233.44 492.80,233.03 493.80,232.61 494.80,232.18 495.80,231.73 496.80,231.26 497.80,230.78 498.80,230.27 499.80,229.76 500.80,229.22 501.80,228.67 502.80,228.10 503.80,227.51 504.80,226.90 505.80,226.28 506.80,225.63 507.80,224.97 508.80,224.28 509.80,223.58 510.80,222.86 511.80,222.12 512.80,221.35 513.80,220.57 514.80,219.77 515.80,218.95 516.80,218.11 517.80,217.25 518.80,216.37 519.80,215.46 520.80,214.54 521.80,213.60 522.80,212.64 523.80,211.65 524.80,210.65 525.80,209.63 526.80,208.58 527.80,207.52 528.80,206.43 529.80,205.33 530.80,204.20 531.80,203.06 532.80,201.90 533.80,200.71 534.80,199.50 535.80,198.28 536.80,197.03 537.80,195.77 538.80,194.48 539.80,193.17 540.80,191.84 541.80,190.49 542.80,189.12 543.80,187.73 544.80,186.31 545.80,184.88 546.80,183.42 547.80,181.94 548.80,180.44 549.80,178.92 550.80,177.38 551.80,175.81 552.80,174.23 553.80,172.62 554.80,171.00 555.80,169.35 556.80,167.70 557.80,166.02 558.80,164.34 559.80,162.65 560.80,160.95 561.80,159.24 562.80,157.52 563.80,155.81 564.80,154.09 565.80,152.37 566.80,150.66 567.80,148.95 568.80,147.24 569.80,145.54 570.80,143.86 571.80,142.18 572.80,140.52 573.80,138.87 574.80,137.24 575.80,135.63 576.80,134.03 577.80,132.46 578.80,130.91 579.80,129.38 580.80,127.87 581.80,126.39 582.80,124.93 583.80,123.49 584.80,122.07 585.80,120.68 586.80,119.32 587.80,117.98 588.80,116.66 589.80,115.37 590.80,114.11 591.80,112.88 592.80,111.67 593.80,110.49 594.80,109.34 595.80,108.22 596.80,107.12 597.80,106.06 598.80,105.02 599.80,104.02 600.80,103.05 601.80,102.10 602.80,101.19 603.80,100.32 604.80,99.47 605.80,98.66 606.80,97.88 607.80,97.14 608.80,96.43 609.80,95.75 610.80,95.11 611.80,94.51 612.80,93.94 613.80,93.41 614.80,92.92 615.80,92.46 616.80,92.04 617.80,91.66 618.80,91.32 619.80,91.01 620.80,90.75 621.80,90.53 622.80,90.34 623.80,90.19 624.80,90.08 625.80,90.01 626.80,89.97 627.80,89.97 628.80,90.01 629.80,90.09 630.80,90.21 631.80,90.36 632.80,90.55 633.80,90.78 634.80,91.05 635.80,91.35 636.80,91.68 637.80,92.06 638.80,92.47 639.80,92.92 640.80,93.40 641.80,93.92 642.80,94.48 643.80,95.07 644.80,95.70 645.80,96.36 646.80,97.06 647.80,97.80 648.80,98.57 649.80,99.37 650.80,100.21 651.80,101.08 652.80,101.99 653.80,102.93 654.80,103.91 655.80,104.91 656.80,105.95 657.80,107.01 658.80,108.11 659.80,109.23 660.80,110.38 661.80,111.56 662.80,112.76 663.80,113.99 664.80,115.24 665.80,116.52 666.80,117.82 667.80,119.14 668.80,120.48 669.80,121.84 670.80,123.22 671.80,124.62 672.80,126.04 673.80,127.47 674.80,128.92 675.80,130.39 676.80,131.87 677.80,133.36 678.80,134.87 679.80,136.39 680.80,137.92 681.80,139.46 682.80,141.00 683.80,142.56 684.80,144.13 685.80,145.70 686.80,147.28 687.80,148.87 688.80,150.46 689.80,152.05 690.80,153.65 691.80,155.25 692.80,156.85 693.80,158.45 694.80,160.05 695.80,161.65 696.80,163.24 697.80,164.84 698.80,166.43 699.80,168.02 700.80,169.60 701.80,171.17 702.80,172.74 703.80,174.30 704.80,175.86 705.80,177.40 706.80,178.93 707.80,180.46 708.80,181.97 709.80,183.47 710.80,184.95 711.80,186.42 712.80,187.88 713.80,189.32 714.80,190.75 715.80,192.16 716.80,193.55 717.80,194.92 718.80,196.27 719.80,197.60 720.80,198.92 721.80,200.20 722.80,201.47 723.80,202.72 724.80,203.94 725.80,205.13 726.80,206.30 727.80,207.45 728.80,208.56 729.80,209.65 730.80,210.71 731.80,211.75 732.80,212.76 733.80,213.74 734.80,214.69 735.80,215.62 736.80,216.52 737.80,217.39 738.80,218.24 739.80,219.07 740.80,219.87 741.80,220.65 742.80,221.40 743.80,222.13 744.80,222.83 745.80,223.51 746.80,224.17 747.80,224.81 748.80,225.42 749.80,226.01 750.80,226.58 751.80,227.13 752.80,227.65 753.80,228.16 754.80,228.64 755.80,229.11 756.80,229.55 757.80,229.97 758.80,230.37 759.80,230.76 760.80,231.12 761.80,231.46 762.80,231.79 763.80,232.09 764.80,232.38 765.80,232.65 766.80,232.91 767.80,233.14 768.80,233.36 769.80,233.56 770.80,233.74 771.80,233.91 772.80,234.06 773.80,234.19 774.80,234.31 775.80,234.42 776.80,234.50 777.80,234.58 778.80,234.63 779.80,234.68 780.80,234.71 781.80,234.72 782.80,234.72" stroke="#8c8c48"/>
<polyline points="470.80,239.07 471.80,238.91 472.80,238.75 473.80,238.58 474.80,238.40 475.80,238.21 476.80,238.01 477.80,237.79 478.80,237.57 479.80,237.34 480.80,237.10 481.80,236.84 482.80,236.57 483.80,236.29 484.80,236.00 485.80,235.70 486.80,235.38 487.80,235.05 488.80,234.71 489.80,234.35 490.80,233.98 491.80,233.60 492.80,233.20 493.80,232.78 494.80,232.35 495.80,231.91 496.80,231.45 497.80,230.98 498.80,230.48 499.80,229.98 500.80,229.45 501.80,228.91 502.80,228.36 503.80,227.78 504.80,227.19 505.80,226.58 506.80,225.95 507.80,225.30 508.80,224.64 509.80,223.95 510.80,223.25 511.80,222.53 512.80,221.79 513.80,221.03 514.80,220.25 515.80,219.45 516.80,218.64 517.80,217.80 518.80,216.94 519.80,216.06 520.80,215.16 521.80,214.25 522.80,213.31 523.80,212.35 524.80,211.37 525.80,210.37 526.80,209.35 527.80,208.31 528.80,207.25 529.80,206.17 530.80,205.07 531.80,203.95 532.80,202.81 533.80,201.65 534.80,200.46 535.80,199.26 536.80,198.04 537.80,196.79 538.80,195.53 539.80,194.24 540.80,192.94 541.80,191.61 542.80,190.26 543.80,188.90 544.80,187.51 545.80,186.10 546.80,184.66 547.80,183.21 548.80,181.74 549.80,180.24 550.80,178.72 551.80,177.19 552.80,175.63 553.80,174.05 554.80,172.45 555.80,170.84 556.80,169.21 557.80,167.57 558.80,165.92 559.80,164.26 560.80,162.59 561.80,160.92 562.80,159.24 563.80,157.56 564.80,155.87 565.80,154.19 566.80,152.51 567.80,150.83 568.80,149.16 569.80,147.50 570.80,145.84 571.80,144.20 572.80,142.56 573.80,140.94 574.80,139.34 575.80,137.76 576.80,136.19 577.80,134.64 578.80,133.11 579.80,131.61 580.80,130.12 581.80,128.66 582.80,127.22 583.80,125.80 584.80,124.40 585.80,123.03 586.80,121.68 587.80,120.35 588.80,119.05 589.80,117.78 590.80,116.53 591.80,115.30 592.80,114.11 593.80,112.94 594.80,111.80 595.80,110.68 596.80,109.60 597.80,108.54 598.80,107.52 599.80,106.52 600.80,105.55 601.80,104.62 602.80,103.71 603.80,102.84 604.80,102.00 605.80,101.19 606.80,100.42 607.80,99.68 608.80,98.98 609.80,98.30 610.80,97.67 611.80,97.07 612.80,96.51 613.80,95.98 614.80,95.49 615.80,95.03 616.80,94.62 617.80,94.24 618.80,93.91 619.80,93.61 620.80,93.35 621.80,93.13 622.80,92.94 623.80,92.80 624.80,92.69 625.80,92.62 626.80,92.59 627.80,92.60 628.80,92.65 629.80,92.73 630.80,92.85 631.80,93.00 632.80,93.20 633.80,93.43 634.80,93.69 635.80,93.99 636.80,94.33 637.80,94.71 638.80,95.12 639.80,95.56 640.80,96.05 641.80,96.56 642.80,97.12 643.80,97.70 644.80,98.33 645.80,98.98 646.80,99.68 647.80,100.40 648.80,101.16 649.80,101.96 650.80,102.79 651.80,103.65 652.80,104.54 653.80,105.47 654.80,106.43 655.80,107.42 656.80,108.44 657.80,109.49 658.80,110.57 659.80,111.68 660.80,112.81 661.80,113.97 662.80,115.15 663.80,116.36 664.80,117.60 665.80,118.85 666.80,120.13 667.80,121.43 668.80,122.75 669.80,124.09 670.80,125.45 671.80,126.83 672.80,128.22 673.80,129.63 674.80,131.06 675.80,132.50 676.80,133.95 677.80,135.42 678.80,136.90 679.80,138.40 680.80,139.90 681.80,141.42 682.80,142.94 683.80,144.47 684.80,146.01 685.80,147.56 686.80,149.11 687.80,150.67 688.80,152.23 689.80,153.79 690.80,155.36 691.80,156.93 692.80,158.50 693.80,160.08 694.80,161.65 695.80,163.22 696.80,164.79 697.80,166.36 698.80,167.92 699.80,169.48 700.80,171.03 701.80,172.58 702.80,174.12 703.80,175.65 704.80,177.17 705.80,178.69 706.80,180.19 707.80,181.69 708.80,183.17 709.80,184.64 710.80,186.10 711.80,187.54 712.80,188.97 713.80,190.39 714.80,191.78 715.80,193.17 716.80,194.53 717.80,195.88 718.80,197.20 719.80,198.51 720.80,199.80 721.80,201.06 722.80,202.30 723.80,203.52 724.80,204.72 725.80,205.89 726.80,207.04 727.80,208.16 728.80,209.26 729.80,210.32 730.80,211.36 731.80,212.38 732.80,213.36 733.80,214.32 734.80,215.25 735.80,216.16 736.80,217.04 737.80,217.90 738.80,218.73 739.80,219.54 740.80,220.32 741.80,221.08 742.80,221.81 743.80,222.52 744.80,223.21 745.80,223.87 746.80,224.52 747.80,225.14 748.80,225.74 749.80,226.31 750.80,226.87 751.80,227.40 752.80,227.91 753.80,228.41 754.80,228.88 755.80,229.33 756.80,229.76 757.80,230.17 758.80,230.57 759.80,230.94 760.80,231.30 761.80,231.63 762.80,231.95 763.80,232.25 764.80,232.54 765.80,232.80 766.80,233.05 767.80,233.28 768.80,233.50 769.80,233.70 770.80,233.88 771.80,234.04 772.80,234.20 773.80,234.33 774.80,234.45 775.80,234.56 776.80,234.65 777.80,234.73 778.80,234.79 779.80,234.84 780.80,234.88 781.80,234.90 782.80,234.91" stroke="#34346e"/>
<polyline points="470.80,239.17 471.80,239.02 472.80,238.86 473.80,238.69 474.80,238.52 475.80,238.33 476.80,238.13 477.80,237.92 478.80,237.70 479.80,237.47 480.80,237.23 481.80,236.97 482.80,236.71 483.80,236.43 484.80,236.14 485.80,235.84 486.80,235.53 487.80,235.20 488.80,234.86 489.80,234.51 490.80,234.15 491.80,233.77 492.80,233.38 493.80,232.97 494.80,232.55 495.80,232.11 496.80,231.66 497.80,231.20 498.80,230.72 499.80,230.22 500.80,229.71 501.80,229.18 502.80,228.64 503.80,228.08 504.80,227.50 505.80,226.91 506.80,226.30 507.80,225.67 508.80,225.03 509.80,224.36 510.80,223.68 511.80,222.99 512.80,222.27 513.80,221.53 514.80,220.78 515.80,220.01 516.80,219.21 517.80,218.40 518.80,217.57 519.80,216.72 520.80,215.85 521.80,214.96 522.80,214.05 523.80,213.11 524.80,212.16 525.80,211.19 526.80,210.20 527.80,209.18 528.80,208.15 529.80,207.09 530.80,206.02 531.80,204.92 532.80,203.81 533.80,202.67 534.80,201.52 535.80,200.34 536.80,199.14 537.80,197.92 538.80,196.69 539.80,195.43 540.80,194.15 541.80,192.85 542.80,191.52 543.80,190.18 544.80,188.82 545.80,187.44 546.80,186.03 547.80,184.61 548.80,183.16 549.80,181.69 550.80,180.20 551.80,178.70 552.80,177.17 553.80,175.62 554.80,174.06 555.80,172.48 556.80,170.88 557.80,169.28 558.80,167.66 559.80,166.04 560.80,164.41 561.80,162.77 562.80,161.13 563.80,159.48 564.80,157.83 565.80,156.19 566.80,154.55 567.80,152.91 568.80,151.27 569.80,149.64 570.80,148.02 571.80,146.41 572.80,144.81 573.80,143.23 574.80,141.65 575.80,140.10 576.80,138.56 577.80,137.04 578.80,135.54 579.80,134.06 580.80,132.60 581.80,131.16 582.80,129.74 583.80,128.34 584.80,126.96 585.80,125.61 586.80,124.27 587.80,122.96 588.80,121.68 589.80,120.42 590.80,119.18 591.80,117.97 592.80,116.79 593.80,115.63 594.80,114.50 595.80,113.40 596.80,112.32 597.80,111.27 598.80,110.26 599.80,109.27 600.80,108.31 601.80,107.38 602.80,106.48 603.80,105.62 604.80,104.78 605.80,103.98 606.80,103.21 607.80,102.48 608.80,101.78 609.80,101.11 610.80,100.48 611.80,99.89 612.80,99.33 613.80,98.80 614.80,98.32 615.80,97.87 616.80,97.46 617.80,97.09 618.80,96.75 619.80,96.46 620.80,96.20 621.80,95.99 622.80,95.81 623.80,95.67 624.80,95.57 625.80,95.51 626.80,95.48 627.80,95.49 628.80,95.54 629.80,95.63 630.80,95.75 631.80,95.91 632.80,96.10 633.80,96.33 634.80,96.60 635.80,96.91 636.80,97.25 637.80,97.62 638.80,98.03 639.80,98.47 640.80,98.95 641.80,99.47 642.80,100.02 643.80,100.60 644.80,101.22 645.80,101.87 646.80,102.55 647.80,103.27 648.80,104.02 649.80,104.80 650.80,105.62 651.80,106.47 652.80,107.35 653.80,108.26 654.80,109.21 655.80,110.18 656.80,111.19 657.80,112.22 658.80,113.28 659.80,114.37 660.80,115.48 661.80,116.62 662.80,117.79 663.80,118.98 664.80,120.19 665.80,121.42 666.80,122.68 667.80,123.96 668.80,125.25 669.80,126.57 670.80,127.90 671.80,129.25 672.80,130.62 673.80,132.01 674.80,133.41 675.80,134.82 676.80,136.25 677.80,137.69 678.80,139.15 679.80,140.61 680.80,142.09 681.80,143.57 682.80,145.07 683.80,146.57 684.80,148.08 685.80,149.59 686.80,151.12 687.80,152.64 688.80,154.18 689.80,155.71 690.80,157.25 691.80,158.79 692.80,160.33 693.80,161.87 694.80,163.41 695.80,164.95 696.80,166.49 697.80,168.02 698.80,169.55 699.80,171.08 700.80,172.60 701.80,174.12 702.80,175.63 703.80,177.13 704.80,178.62 705.80,180.10 706.80,181.58 707.80,183.04 708.80,184.49 709.80,185.93 710.80,187.36 711.80,188.77 712.80,190.17 713.80,191.56 714.80,192.93 715.80,194.28 716.80,195.61 717.80,196.93 718.80,198.23 719.80,199.50 720.80,200.76 721.80,202.00 722.80,203.22 723.80,204.41 724.80,205.58 725.80,206.73 726.80,207.85 727.80,208.95 728.80,210.02 729.80,211.06 730.80,212.08 731.80,213.07 732.80,214.03 733.80,214.97 734.80,215.88 735.80,216.76 736.80,217.62 737.80,218.45 738.80,219.26 739.80,220.05 740.80,220.81 741.80,221.55 742.80,222.26 743.80,222.96 744.80,223.63 745.80,224.27 746.80,224.90 747.80,225.50 748.80,226.08 749.80,226.64 750.80,227.18 751.80,227.70 752.80,228.20 753.80,228.68 754.80,229.14 755.80,229.58 756.80,230.00 757.80,230.40 758.80,230.78 759.80,231.15 760.80,231.49 761.80,231.82 762.80,232.13 763.80,232.43 764.80,232.70 765.80,232.96 766.80,233.21 767.80,233.44 768.80,233.65 769.80,233.85 770.80,234.03 771.80,234.19 772.80,234.35 773.80,234.48 774.80,234.61 775.80,234.72 776.80,234.81 777.80,234.90 778.80,234.97 779.80,235.02 780.80,235.07 781.80,235.10 782.80,235.12" stroke="#6e2e84"/>
</g>
<g fill="none" stroke="#404040" stroke-width="1.55">
<rect x="61.7" y="12.3" width="314.1" height="231.29999999999998"/>
<line x1="90.07" y1="243.6" x2="90.07" y2="241.1"/>
<line x1="118.65" y1="243.6" x2="118.65" y2="239.0"/>
<line x1="147.22" y1="243.6" x2="147.22" y2="241.1"/>
<line x1="175.79" y1="243.6" x2="175.79" y2="239.0"/>
<line x1="204.36" y1="243.6" x2="204.36" y2="241.1"/>
<line x1="232.94" y1="243.6" x2="232.94" y2="239.0"/>
<line x1="261.51" y1="243.6" x2="261.51" y2="241.1"/>
<line x1="290.08" y1="243.6" x2="290.08" y2="239.0"/>
<line x1="318.65" y1="243.6" x2="318.65" y2="241.1"/>
<line x1="347.23" y1="243.6" x2="347.23" y2="239.0"/>
<line x1="61.5" y1="219.51" x2="64.5" y2="219.51"/>
<line x1="61.5" y1="195.41" x2="66.5" y2="195.41"/>
<line x1="61.5" y1="171.32" x2="64.5" y2="171.32"/>
<line x1="61.5" y1="147.22" x2="66.5" y2="147.22"/>
<line x1="61.5" y1="123.13" x2="64.5" y2="123.13"/>
<line x1="61.5" y1="99.04" x2="66.5" y2="99.04"/>
<line x1="61.5" y1="74.94" x2="64.5" y2="74.94"/>
<line x1="61.5" y1="50.85" x2="66.5" y2="50.85"/>
<line x1="61.5" y1="26.76" x2="64.5" y2="26.76"/>
</g>
<g fill="none" stroke="#5c5c5c" stroke-width="1.65">
<rect x="470.0" y="14.0" width="313.5" height="230.6"/>
<line x1="514.79" y1="244.6" x2="514.79" y2="240.0"/>
<line x1="559.57" y1="244.6" x2="559.57" y2="242.2"/>
<line x1="604.36" y1="244.6" x2="604.36" y2="240.0"/>
<line x1="649.14" y1="244.6" x2="649.14" y2="242.2"/>
<line x1="693.93" y1="244.6" x2="693.93" y2="240.0"/>
<line x1="738.71" y1="244.6" x2="738.71" y2="242.2"/>
<line x1="470.0" y1="225.38" x2="473.0" y2="225.38"/>
<line x1="470.0" y1="206.17" x2="475.0" y2="206.17"/>
<line x1="470.0" y1="186.95" x2="473.0" y2="186.95"/>
<line x1="470.0" y1="167.73" x2="475.0" y2="167.73"/>
<line x1="470.0" y1="148.52" x2="473.0" y2="148.52"/>
<line x1="470.0" y1="129.30" x2="475.0" y2="129.30"/>
<line x1="470.0" y1="110.08" x2="473.0" y2="110.08"/>
<line x1="470.0" y1="90.87" x2="475.0" y2="90.87"/>
<line x1="470.0" y1="71.65" x2="473.0" y2="71.65"/>
<line x1="470.0" y1="52.43" x2="475.0" y2="52.43"/>
<line x1="470.0" y1="33.22" x2="473.0" y2="33.22"/>
</g>
<g font-family="Liberation Serif, serif" font-size="19" fill="#111">
<text x="62.30" y="265.6" text-anchor="middle">280</text>
<text x="119.45" y="265.6" text-anchor="middle">290</text>
<text x="176.59" y="265.6" text-anchor="middle">300</text>
<text x="233.74" y="265.6" text-anchor="middle">310</text>
<text x="290.88" y="265.6" text-anchor="middle">320</text>
<text x="348.03" y="265.6" text-anchor="middle">330</text>
<text x="53.80" y="249.50" text-anchor="end">0</text>
<text x="54.70" y="201.30" text-anchor="end">25</text>
<text x="55.10" y="153.30" text-anchor="end">50</text>
<text x="54.70" y="104.95" text-anchor="end">75</text>
<text x="57.30" y="56.65" text-anchor="end">100</text>
<text x="514.29" y="265.8" text-anchor="middle">320</text>
<text x="603.86" y="265.8" text-anchor="middle">340</text>
<text x="693.43" y="265.8" text-anchor="middle">360</text>
<text x="783.00" y="265.8" text-anchor="middle">380</text>
<text x="460.10" y="252.40" text-anchor="end">0</text>
<text x="462.70" y="213.97" text-anchor="end">100</text>
<text x="462.70" y="175.53" text-anchor="end">200</text>
<text x="462.70" y="137.10" text-anchor="end">300</text>
<text x="462.70" y="98.67" text-anchor="end">400</text>
<text x="462.70" y="60.23" text-anchor="end">500</text>
<text x="462.70" y="21.80" text-anchor="end">600</text>
<text x="231" y="294.7" text-anchor="middle" font-size="18">Wavelength (nm)</text>
<text x="640" y="293.2" text-anchor="middle" font-size="18">Wavelength (nm)</text>
<text transform="translate(15,134.5) rotate(-90)" text-anchor="middle" font-size="18">Intensity (a.u.)</text>
<text transform="translate(419,128) rotate(-90)" text-anchor="middle" font-size="18">Intensity (a.u.)</text>
<g font-size="20">
<text x="82 94.2" y="40.8">&#916;&#955;</text><text x="126 135.4 144.6 154.2" y="40.8">15nm</text>
<text x="492.2 504.6" y="41.2">&#916;&#955;</text><text x="536.8 547.2 557.4 567.6" y="41.2">60nm</text>
</g>
<g fill="#1a1a1a">
<rect x="109.8" y="32.0" width="10.2" height="1.2"/><rect x="109.8" y="35.1" width="10.2" height="1.4"/>
<rect x="519.1" y="32.8" width="11.1" height="1.1"/><rect x="519.1" y="35.9" width="11.1" height="1.1"/>
</g>
<g font-size="19">
<text x="338.5" y="45.6" text-anchor="middle">a</text>
<text x="338" y="93.6" text-anchor="middle">j</text>
<text x="723.3" y="77.6" text-anchor="middle">a</text>
<text x="722.8" y="125" text-anchor="middle">j</text>
</g>
</g>
<g font-family="Liberation Serif, serif" font-size="21" font-weight="bold" fill="#000">
<text x="2.4" y="13">a</text>
<text x="409.8" y="16">b</text>
</g>
<g fill="#4270b5" stroke="#4270b5">
<line x1="337.9" y1="48.8" x2="337.9" y2="69" stroke-width="2.1"/>
<polygon points="333.8,67.3 342.1,67.3 337.95,75.5" stroke="none"/>
<line x1="723" y1="80.9" x2="723" y2="100" stroke-width="2"/>
<polygon points="718.8,99.1 727.2,99.1 723,107.1" stroke="none"/>
</g>
</svg>
</body></html>
